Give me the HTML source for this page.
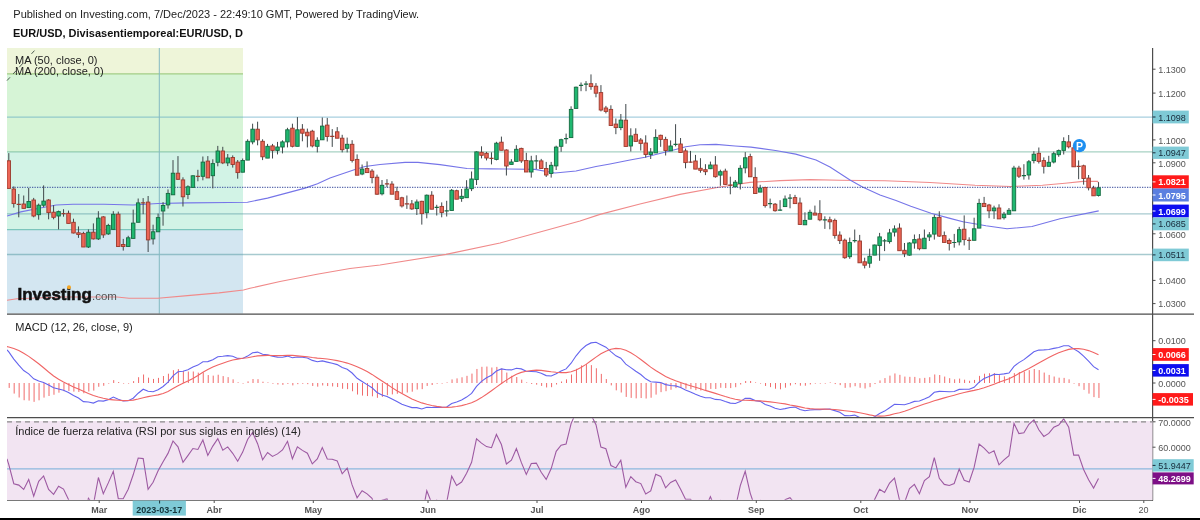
<!DOCTYPE html>
<html><head><meta charset="utf-8"><title>EUR/USD chart</title>
<style>html,body{margin:0;padding:0;background:#fff;}body{width:1200px;height:520px;overflow:hidden;position:relative;}</style>
</head><body>
<svg width="1200" height="520" viewBox="0 0 1200 520" style="position:absolute;left:0;top:0;font-family:'Liberation Sans', Arial, sans-serif">
<text x="13.3" y="18" font-size="11" fill="#222">Published on Investing.com, 7/Dec/2023 - 22:49:10 GMT, Powered by TradingView.</text>
<text x="13" y="37.3" font-size="11" font-weight="bold" fill="#111">EUR/USD, Divisasentiemporeal:EUR/USD, D</text>
<defs><clipPath id="mp"><rect x="7" y="46" width="1145.5" height="267.5"/></clipPath><clipPath id="mc"><rect x="7" y="314.5" width="1145.5" height="102.5"/></clipPath><clipPath id="rc"><rect x="7" y="418.3" width="1145.5" height="81.5"/></clipPath></defs>
<g clip-path="url(#mp)">
<rect x="7" y="48" width="236" height="26" fill="#eef5d9"/>
<rect x="7" y="74" width="236" height="78" fill="#d6f4d6"/>
<rect x="7" y="152" width="236" height="78" fill="#d2f3e6"/>
<rect x="7" y="230" width="236" height="84" fill="#d3e6f1"/>
<line x1="7" y1="73.8" x2="243" y2="73.8" stroke="#a2cd86" stroke-width="1.3"/>
<line x1="7" y1="229.7" x2="243" y2="229.7" stroke="#7cc5bc" stroke-width="1.3"/>
<line x1="7" y1="117.2" x2="1152" y2="117.2" stroke="rgba(79,159,191,0.5)" stroke-width="1.3"/>
<line x1="7" y1="151.8" x2="1152" y2="151.8" stroke="rgba(81,165,137,0.5)" stroke-width="1.3"/>
<line x1="7" y1="213.9" x2="1152" y2="213.9" stroke="rgba(79,149,159,0.5)" stroke-width="1.3"/>
<line x1="7" y1="254.5" x2="1152" y2="254.5" stroke="rgba(79,149,159,0.5)" stroke-width="1.3"/>
<line x1="159.3" y1="48" x2="159.3" y2="314" stroke="#84b9c2" stroke-width="1"/>
<polyline points="7.0,300.2 17.0,298.8 62.0,297.0 117.0,297.0 129.0,298.3 158.0,298.3 187.5,295.6 219.0,292.9 243.5,290.0 250.0,288.3 280.0,281.5 317.0,274.2 350.0,268.5 380.0,265.0 446.0,254.4 500.0,243.0 540.0,232.0 580.0,221.0 600.0,214.4 640.0,204.0 680.0,194.4 720.0,187.0 750.0,182.4 780.0,180.6 810.0,179.6 840.0,180.2 885.0,180.7 930.0,182.5 975.0,185.2 1011.0,186.5 1042.5,185.2 1065.0,183.2 1083.0,181.4 1097.5,181.3 1098.6,183.0" fill="none" stroke="#f08a8a" stroke-width="1.1"/>
<polyline points="7.0,216.0 20.8,211.9 41.7,207.7 56.2,205.0 73.0,204.2 104.0,204.2 133.0,205.0 158.0,203.5 187.5,202.9 229.0,202.5 247.5,202.3 267.5,198.1 286.3,193.1 305.0,188.1 317.5,183.8 330.0,178.1 342.5,173.8 355.0,169.5 365.0,166.5 380.0,164.5 405.0,162.4 418.0,162.4 440.0,164.6 467.0,168.5 491.0,168.9 505.0,169.0 535.0,169.4 555.0,173.0 576.0,171.0 596.0,166.5 610.0,164.0 630.0,160.0 645.0,157.2 675.6,149.5 685.7,146.8 700.0,144.8 716.0,144.4 735.0,146.0 751.0,147.1 775.5,150.5 795.7,154.1 816.0,160.0 830.0,167.0 840.0,173.5 850.0,180.0 862.5,187.0 880.0,195.0 896.0,200.5 910.8,206.3 931.0,213.3 950.0,218.4 963.0,221.8 986.0,225.8 1007.0,228.8 1032.0,226.5 1060.0,218.8 1098.7,210.9" fill="none" stroke="#7675e8" stroke-width="1.1"/>
<line x1="7" y1="187.3" x2="1152" y2="187.3" stroke="#34489a" stroke-width="1" stroke-dasharray="1.3,1.2"/>
<line x1="8.80" y1="153.1" x2="8.80" y2="188.4" stroke="#3f474a" stroke-width="1"/>
<rect x="7.05" y="160.8" width="3.5" height="27.6" fill="#ec6556" stroke="#9a392c" stroke-width="0.9"/>
<line x1="13.78" y1="186.4" x2="13.78" y2="207.6" stroke="#3f474a" stroke-width="1"/>
<rect x="12.03" y="189.0" width="3.5" height="14.6" fill="#ec6556" stroke="#9a392c" stroke-width="0.9"/>
<line x1="18.75" y1="194.0" x2="18.75" y2="217.3" stroke="#3f474a" stroke-width="1"/>
<line x1="16.65" y1="204.4" x2="20.85" y2="204.4" stroke="#9a392c" stroke-width="1.2"/>
<line x1="23.73" y1="195.5" x2="23.73" y2="208.4" stroke="#3f474a" stroke-width="1"/>
<rect x="21.98" y="204.0" width="3.5" height="4.4" fill="#ec6556" stroke="#9a392c" stroke-width="0.9"/>
<line x1="28.70" y1="188.0" x2="28.70" y2="207.6" stroke="#3f474a" stroke-width="1"/>
<rect x="26.95" y="201.5" width="3.5" height="6.1" fill="#1fb870" stroke="#146a40" stroke-width="0.9"/>
<line x1="33.68" y1="197.9" x2="33.68" y2="217.3" stroke="#3f474a" stroke-width="1"/>
<rect x="31.93" y="200.0" width="3.5" height="16.0" fill="#ec6556" stroke="#9a392c" stroke-width="0.9"/>
<line x1="38.66" y1="203.6" x2="38.66" y2="219.7" stroke="#3f474a" stroke-width="1"/>
<rect x="36.91" y="205.2" width="3.5" height="9.5" fill="#1fb870" stroke="#146a40" stroke-width="0.9"/>
<line x1="43.63" y1="185.4" x2="43.63" y2="207.2" stroke="#3f474a" stroke-width="1"/>
<rect x="41.88" y="201.1" width="3.5" height="4.1" fill="#1fb870" stroke="#146a40" stroke-width="0.9"/>
<line x1="48.61" y1="199.1" x2="48.61" y2="219.3" stroke="#3f474a" stroke-width="1"/>
<rect x="46.86" y="200.0" width="3.5" height="12.6" fill="#ec6556" stroke="#9a392c" stroke-width="0.9"/>
<line x1="53.58" y1="205.2" x2="53.58" y2="219.3" stroke="#3f474a" stroke-width="1"/>
<rect x="51.83" y="212.2" width="3.5" height="5.1" fill="#ec6556" stroke="#9a392c" stroke-width="0.9"/>
<line x1="58.56" y1="210.6" x2="58.56" y2="229.4" stroke="#3f474a" stroke-width="1"/>
<rect x="56.81" y="211.6" width="3.5" height="4.4" fill="#1fb870" stroke="#146a40" stroke-width="0.9"/>
<line x1="63.54" y1="209.2" x2="63.54" y2="216.7" stroke="#3f474a" stroke-width="1"/>
<line x1="61.44" y1="213.7" x2="65.64" y2="213.7" stroke="#9a392c" stroke-width="1.2"/>
<line x1="68.51" y1="210.6" x2="68.51" y2="223.4" stroke="#3f474a" stroke-width="1"/>
<rect x="66.76" y="213.3" width="3.5" height="10.1" fill="#ec6556" stroke="#9a392c" stroke-width="0.9"/>
<line x1="73.49" y1="218.7" x2="73.49" y2="233.4" stroke="#3f474a" stroke-width="1"/>
<rect x="71.74" y="222.3" width="3.5" height="10.7" fill="#ec6556" stroke="#9a392c" stroke-width="0.9"/>
<line x1="78.46" y1="226.4" x2="78.46" y2="237.9" stroke="#3f474a" stroke-width="1"/>
<rect x="76.71" y="232.8" width="3.5" height="1.7" fill="#ec6556" stroke="#9a392c" stroke-width="0.9"/>
<line x1="83.44" y1="231.8" x2="83.44" y2="247.0" stroke="#3f474a" stroke-width="1"/>
<rect x="81.69" y="233.4" width="3.5" height="13.6" fill="#ec6556" stroke="#9a392c" stroke-width="0.9"/>
<line x1="88.42" y1="229.4" x2="88.42" y2="248.0" stroke="#3f474a" stroke-width="1"/>
<rect x="86.67" y="232.2" width="3.5" height="14.8" fill="#1fb870" stroke="#146a40" stroke-width="0.9"/>
<line x1="93.39" y1="223.4" x2="93.39" y2="239.5" stroke="#3f474a" stroke-width="1"/>
<rect x="91.64" y="232.2" width="3.5" height="6.7" fill="#ec6556" stroke="#9a392c" stroke-width="0.9"/>
<line x1="98.37" y1="211.2" x2="98.37" y2="240.0" stroke="#3f474a" stroke-width="1"/>
<rect x="96.62" y="218.1" width="3.5" height="20.8" fill="#1fb870" stroke="#146a40" stroke-width="0.9"/>
<line x1="103.34" y1="216.1" x2="103.34" y2="237.9" stroke="#3f474a" stroke-width="1"/>
<rect x="101.59" y="216.9" width="3.5" height="18.0" fill="#ec6556" stroke="#9a392c" stroke-width="0.9"/>
<line x1="108.32" y1="223.8" x2="108.32" y2="234.9" stroke="#3f474a" stroke-width="1"/>
<rect x="106.57" y="225.4" width="3.5" height="8.5" fill="#1fb870" stroke="#146a40" stroke-width="0.9"/>
<line x1="113.30" y1="211.2" x2="113.30" y2="229.4" stroke="#3f474a" stroke-width="1"/>
<rect x="111.55" y="214.3" width="3.5" height="15.1" fill="#1fb870" stroke="#146a40" stroke-width="0.9"/>
<line x1="118.27" y1="211.6" x2="118.27" y2="246.5" stroke="#3f474a" stroke-width="1"/>
<rect x="116.52" y="214.2" width="3.5" height="32.3" fill="#ec6556" stroke="#9a392c" stroke-width="0.9"/>
<line x1="123.25" y1="238.9" x2="123.25" y2="250.6" stroke="#3f474a" stroke-width="1"/>
<rect x="121.50" y="244.5" width="3.5" height="2.0" fill="#ec6556" stroke="#9a392c" stroke-width="0.9"/>
<line x1="128.22" y1="235.8" x2="128.22" y2="246.5" stroke="#3f474a" stroke-width="1"/>
<rect x="126.47" y="237.8" width="3.5" height="8.7" fill="#1fb870" stroke="#146a40" stroke-width="0.9"/>
<line x1="133.20" y1="209.6" x2="133.20" y2="238.4" stroke="#3f474a" stroke-width="1"/>
<rect x="131.45" y="223.1" width="3.5" height="15.3" fill="#1fb870" stroke="#146a40" stroke-width="0.9"/>
<line x1="138.18" y1="198.5" x2="138.18" y2="222.3" stroke="#3f474a" stroke-width="1"/>
<rect x="136.43" y="202.9" width="3.5" height="19.4" fill="#1fb870" stroke="#146a40" stroke-width="0.9"/>
<line x1="143.15" y1="198.1" x2="143.15" y2="214.2" stroke="#3f474a" stroke-width="1"/>
<line x1="141.05" y1="202.8" x2="145.25" y2="202.8" stroke="#9a392c" stroke-width="1.2"/>
<line x1="148.13" y1="196.0" x2="148.13" y2="252.0" stroke="#3f474a" stroke-width="1"/>
<rect x="146.38" y="202.1" width="3.5" height="37.8" fill="#ec6556" stroke="#9a392c" stroke-width="0.9"/>
<line x1="153.10" y1="224.7" x2="153.10" y2="244.5" stroke="#3f474a" stroke-width="1"/>
<rect x="151.35" y="231.8" width="3.5" height="7.1" fill="#1fb870" stroke="#146a40" stroke-width="0.9"/>
<line x1="158.08" y1="213.6" x2="158.08" y2="231.8" stroke="#3f474a" stroke-width="1"/>
<rect x="156.33" y="217.6" width="3.5" height="14.2" fill="#1fb870" stroke="#146a40" stroke-width="0.9"/>
<line x1="163.06" y1="202.1" x2="163.06" y2="225.7" stroke="#3f474a" stroke-width="1"/>
<rect x="161.31" y="205.5" width="3.5" height="5.5" fill="#1fb870" stroke="#146a40" stroke-width="0.9"/>
<line x1="168.03" y1="189.4" x2="168.03" y2="208.6" stroke="#3f474a" stroke-width="1"/>
<rect x="166.28" y="193.4" width="3.5" height="11.5" fill="#1fb870" stroke="#146a40" stroke-width="0.9"/>
<line x1="173.01" y1="160.1" x2="173.01" y2="194.8" stroke="#3f474a" stroke-width="1"/>
<rect x="171.26" y="173.2" width="3.5" height="21.6" fill="#1fb870" stroke="#146a40" stroke-width="0.9"/>
<line x1="177.98" y1="156.1" x2="177.98" y2="179.9" stroke="#3f474a" stroke-width="1"/>
<rect x="176.23" y="173.2" width="3.5" height="6.1" fill="#ec6556" stroke="#9a392c" stroke-width="0.9"/>
<line x1="182.96" y1="177.3" x2="182.96" y2="206.5" stroke="#3f474a" stroke-width="1"/>
<rect x="181.21" y="179.9" width="3.5" height="16.9" fill="#ec6556" stroke="#9a392c" stroke-width="0.9"/>
<line x1="187.94" y1="185.3" x2="187.94" y2="199.1" stroke="#3f474a" stroke-width="1"/>
<rect x="186.19" y="186.8" width="3.5" height="7.6" fill="#1fb870" stroke="#146a40" stroke-width="0.9"/>
<line x1="192.91" y1="175.2" x2="192.91" y2="187.4" stroke="#3f474a" stroke-width="1"/>
<rect x="191.16" y="175.8" width="3.5" height="11.6" fill="#1fb870" stroke="#146a40" stroke-width="0.9"/>
<line x1="197.89" y1="169.8" x2="197.89" y2="181.3" stroke="#3f474a" stroke-width="1"/>
<line x1="195.79" y1="176.4" x2="199.99" y2="176.4" stroke="#9a392c" stroke-width="1.2"/>
<line x1="202.86" y1="156.5" x2="202.86" y2="180.3" stroke="#3f474a" stroke-width="1"/>
<rect x="201.11" y="162.1" width="3.5" height="14.2" fill="#1fb870" stroke="#146a40" stroke-width="0.9"/>
<line x1="207.84" y1="156.1" x2="207.84" y2="177.9" stroke="#3f474a" stroke-width="1"/>
<rect x="206.09" y="161.1" width="3.5" height="16.8" fill="#ec6556" stroke="#9a392c" stroke-width="0.9"/>
<line x1="212.82" y1="159.3" x2="212.82" y2="188.4" stroke="#3f474a" stroke-width="1"/>
<rect x="211.07" y="163.6" width="3.5" height="12.1" fill="#1fb870" stroke="#146a40" stroke-width="0.9"/>
<line x1="217.79" y1="145.9" x2="217.79" y2="166.3" stroke="#3f474a" stroke-width="1"/>
<rect x="216.04" y="151.0" width="3.5" height="11.3" fill="#1fb870" stroke="#146a40" stroke-width="0.9"/>
<line x1="222.77" y1="146.8" x2="222.77" y2="164.1" stroke="#3f474a" stroke-width="1"/>
<rect x="221.02" y="151.0" width="3.5" height="11.9" fill="#ec6556" stroke="#9a392c" stroke-width="0.9"/>
<line x1="227.74" y1="154.0" x2="227.74" y2="166.1" stroke="#3f474a" stroke-width="1"/>
<rect x="225.99" y="158.0" width="3.5" height="4.9" fill="#1fb870" stroke="#146a40" stroke-width="0.9"/>
<line x1="232.72" y1="155.4" x2="232.72" y2="167.6" stroke="#3f474a" stroke-width="1"/>
<rect x="230.97" y="157.5" width="3.5" height="7.0" fill="#ec6556" stroke="#9a392c" stroke-width="0.9"/>
<line x1="237.70" y1="160.0" x2="237.70" y2="178.7" stroke="#3f474a" stroke-width="1"/>
<rect x="235.95" y="162.1" width="3.5" height="10.5" fill="#ec6556" stroke="#9a392c" stroke-width="0.9"/>
<line x1="242.67" y1="158.5" x2="242.67" y2="172.2" stroke="#3f474a" stroke-width="1"/>
<rect x="240.92" y="160.5" width="3.5" height="11.7" fill="#1fb870" stroke="#146a40" stroke-width="0.9"/>
<line x1="247.65" y1="139.3" x2="247.65" y2="160.1" stroke="#3f474a" stroke-width="1"/>
<rect x="245.90" y="141.3" width="3.5" height="18.8" fill="#1fb870" stroke="#146a40" stroke-width="0.9"/>
<line x1="252.62" y1="123.7" x2="252.62" y2="144.3" stroke="#3f474a" stroke-width="1"/>
<rect x="250.87" y="129.2" width="3.5" height="12.7" fill="#1fb870" stroke="#146a40" stroke-width="0.9"/>
<line x1="257.60" y1="121.7" x2="257.60" y2="145.3" stroke="#3f474a" stroke-width="1"/>
<rect x="255.85" y="129.2" width="3.5" height="10.7" fill="#ec6556" stroke="#9a392c" stroke-width="0.9"/>
<line x1="262.58" y1="139.3" x2="262.58" y2="160.1" stroke="#3f474a" stroke-width="1"/>
<rect x="260.83" y="141.3" width="3.5" height="15.5" fill="#ec6556" stroke="#9a392c" stroke-width="0.9"/>
<line x1="267.55" y1="143.9" x2="267.55" y2="158.1" stroke="#3f474a" stroke-width="1"/>
<rect x="265.80" y="146.3" width="3.5" height="11.8" fill="#1fb870" stroke="#146a40" stroke-width="0.9"/>
<line x1="272.53" y1="143.9" x2="272.53" y2="158.5" stroke="#3f474a" stroke-width="1"/>
<rect x="270.78" y="145.9" width="3.5" height="4.5" fill="#ec6556" stroke="#9a392c" stroke-width="0.9"/>
<line x1="277.50" y1="141.9" x2="277.50" y2="154.4" stroke="#3f474a" stroke-width="1"/>
<rect x="275.75" y="147.0" width="3.5" height="3.4" fill="#1fb870" stroke="#146a40" stroke-width="0.9"/>
<line x1="282.48" y1="140.3" x2="282.48" y2="153.4" stroke="#3f474a" stroke-width="1"/>
<rect x="280.73" y="141.9" width="3.5" height="5.1" fill="#1fb870" stroke="#146a40" stroke-width="0.9"/>
<line x1="287.46" y1="127.8" x2="287.46" y2="147.4" stroke="#3f474a" stroke-width="1"/>
<rect x="285.71" y="129.8" width="3.5" height="12.1" fill="#1fb870" stroke="#146a40" stroke-width="0.9"/>
<line x1="292.43" y1="123.7" x2="292.43" y2="147.4" stroke="#3f474a" stroke-width="1"/>
<rect x="290.68" y="128.2" width="3.5" height="18.1" fill="#ec6556" stroke="#9a392c" stroke-width="0.9"/>
<line x1="297.41" y1="117.1" x2="297.41" y2="146.3" stroke="#3f474a" stroke-width="1"/>
<rect x="295.66" y="129.8" width="3.5" height="16.5" fill="#1fb870" stroke="#146a40" stroke-width="0.9"/>
<line x1="302.38" y1="124.1" x2="302.38" y2="141.3" stroke="#3f474a" stroke-width="1"/>
<rect x="300.63" y="129.2" width="3.5" height="4.0" fill="#ec6556" stroke="#9a392c" stroke-width="0.9"/>
<line x1="307.36" y1="128.6" x2="307.36" y2="147.4" stroke="#3f474a" stroke-width="1"/>
<rect x="305.61" y="132.2" width="3.5" height="3.6" fill="#ec6556" stroke="#9a392c" stroke-width="0.9"/>
<line x1="312.34" y1="129.8" x2="312.34" y2="147.4" stroke="#3f474a" stroke-width="1"/>
<rect x="310.59" y="131.2" width="3.5" height="14.7" fill="#ec6556" stroke="#9a392c" stroke-width="0.9"/>
<line x1="317.31" y1="137.3" x2="317.31" y2="152.4" stroke="#3f474a" stroke-width="1"/>
<rect x="315.56" y="140.3" width="3.5" height="6.0" fill="#1fb870" stroke="#146a40" stroke-width="0.9"/>
<line x1="322.29" y1="117.5" x2="322.29" y2="139.8" stroke="#3f474a" stroke-width="1"/>
<rect x="320.54" y="126.1" width="3.5" height="13.7" fill="#1fb870" stroke="#146a40" stroke-width="0.9"/>
<line x1="327.26" y1="117.9" x2="327.26" y2="141.5" stroke="#3f474a" stroke-width="1"/>
<rect x="325.51" y="125.1" width="3.5" height="11.4" fill="#ec6556" stroke="#9a392c" stroke-width="0.9"/>
<line x1="332.24" y1="129.1" x2="332.24" y2="146.9" stroke="#3f474a" stroke-width="1"/>
<line x1="330.14" y1="136.3" x2="334.34" y2="136.3" stroke="#9a392c" stroke-width="1.2"/>
<line x1="337.22" y1="127.1" x2="337.22" y2="138.2" stroke="#3f474a" stroke-width="1"/>
<rect x="335.47" y="131.8" width="3.5" height="6.4" fill="#ec6556" stroke="#9a392c" stroke-width="0.9"/>
<line x1="342.19" y1="134.8" x2="342.19" y2="152.4" stroke="#3f474a" stroke-width="1"/>
<rect x="340.44" y="138.2" width="3.5" height="11.5" fill="#ec6556" stroke="#9a392c" stroke-width="0.9"/>
<line x1="347.17" y1="137.6" x2="347.17" y2="152.4" stroke="#3f474a" stroke-width="1"/>
<rect x="345.42" y="144.3" width="3.5" height="4.0" fill="#1fb870" stroke="#146a40" stroke-width="0.9"/>
<line x1="352.14" y1="140.2" x2="352.14" y2="162.5" stroke="#3f474a" stroke-width="1"/>
<rect x="350.39" y="144.3" width="3.5" height="16.1" fill="#ec6556" stroke="#9a392c" stroke-width="0.9"/>
<line x1="357.12" y1="154.4" x2="357.12" y2="175.2" stroke="#3f474a" stroke-width="1"/>
<rect x="355.37" y="159.4" width="3.5" height="15.8" fill="#ec6556" stroke="#9a392c" stroke-width="0.9"/>
<line x1="362.10" y1="164.5" x2="362.10" y2="175.2" stroke="#3f474a" stroke-width="1"/>
<rect x="360.35" y="169.1" width="3.5" height="4.9" fill="#1fb870" stroke="#146a40" stroke-width="0.9"/>
<line x1="367.07" y1="161.4" x2="367.07" y2="172.6" stroke="#3f474a" stroke-width="1"/>
<rect x="365.32" y="168.5" width="3.5" height="4.1" fill="#ec6556" stroke="#9a392c" stroke-width="0.9"/>
<line x1="372.05" y1="169.1" x2="372.05" y2="183.3" stroke="#3f474a" stroke-width="1"/>
<rect x="370.30" y="171.1" width="3.5" height="6.5" fill="#ec6556" stroke="#9a392c" stroke-width="0.9"/>
<line x1="377.02" y1="174.6" x2="377.02" y2="194.8" stroke="#3f474a" stroke-width="1"/>
<rect x="375.27" y="177.2" width="3.5" height="17.0" fill="#ec6556" stroke="#9a392c" stroke-width="0.9"/>
<line x1="382.00" y1="180.0" x2="382.00" y2="195.4" stroke="#3f474a" stroke-width="1"/>
<rect x="380.25" y="185.3" width="3.5" height="8.5" fill="#1fb870" stroke="#146a40" stroke-width="0.9"/>
<line x1="386.98" y1="179.2" x2="386.98" y2="187.3" stroke="#3f474a" stroke-width="1"/>
<line x1="384.88" y1="183.8" x2="389.08" y2="183.8" stroke="#9a392c" stroke-width="1.2"/>
<line x1="391.95" y1="181.2" x2="391.95" y2="194.2" stroke="#3f474a" stroke-width="1"/>
<rect x="390.20" y="184.1" width="3.5" height="10.1" fill="#ec6556" stroke="#9a392c" stroke-width="0.9"/>
<line x1="396.93" y1="186.7" x2="396.93" y2="199.4" stroke="#3f474a" stroke-width="1"/>
<rect x="395.18" y="191.7" width="3.5" height="7.7" fill="#ec6556" stroke="#9a392c" stroke-width="0.9"/>
<line x1="401.90" y1="196.8" x2="401.90" y2="207.5" stroke="#3f474a" stroke-width="1"/>
<rect x="400.15" y="197.8" width="3.5" height="8.1" fill="#ec6556" stroke="#9a392c" stroke-width="0.9"/>
<line x1="406.88" y1="195.5" x2="406.88" y2="208.9" stroke="#3f474a" stroke-width="1"/>
<line x1="404.78" y1="203.9" x2="408.98" y2="203.9" stroke="#9a392c" stroke-width="1.2"/>
<line x1="411.86" y1="200.0" x2="411.86" y2="209.9" stroke="#3f474a" stroke-width="1"/>
<rect x="410.11" y="203.9" width="3.5" height="5.0" fill="#ec6556" stroke="#9a392c" stroke-width="0.9"/>
<line x1="416.83" y1="199.5" x2="416.83" y2="215.0" stroke="#3f474a" stroke-width="1"/>
<rect x="415.08" y="202.0" width="3.5" height="6.6" fill="#1fb870" stroke="#146a40" stroke-width="0.9"/>
<line x1="421.81" y1="200.8" x2="421.81" y2="224.6" stroke="#3f474a" stroke-width="1"/>
<rect x="420.06" y="201.3" width="3.5" height="12.3" fill="#ec6556" stroke="#9a392c" stroke-width="0.9"/>
<line x1="426.78" y1="194.5" x2="426.78" y2="218.3" stroke="#3f474a" stroke-width="1"/>
<rect x="425.03" y="195.2" width="3.5" height="17.5" fill="#1fb870" stroke="#146a40" stroke-width="0.9"/>
<line x1="431.76" y1="191.2" x2="431.76" y2="209.2" stroke="#3f474a" stroke-width="1"/>
<rect x="430.01" y="195.2" width="3.5" height="14.0" fill="#ec6556" stroke="#9a392c" stroke-width="0.9"/>
<line x1="436.74" y1="204.8" x2="436.74" y2="215.5" stroke="#3f474a" stroke-width="1"/>
<line x1="434.64" y1="207.3" x2="438.84" y2="207.3" stroke="#146a40" stroke-width="1.2"/>
<line x1="441.71" y1="202.4" x2="441.71" y2="217.3" stroke="#3f474a" stroke-width="1"/>
<rect x="439.96" y="206.4" width="3.5" height="6.1" fill="#ec6556" stroke="#9a392c" stroke-width="0.9"/>
<line x1="446.69" y1="200.8" x2="446.69" y2="216.5" stroke="#3f474a" stroke-width="1"/>
<line x1="444.59" y1="210.9" x2="448.79" y2="210.9" stroke="#146a40" stroke-width="1.2"/>
<line x1="451.66" y1="189.0" x2="451.66" y2="210.5" stroke="#3f474a" stroke-width="1"/>
<rect x="449.91" y="190.3" width="3.5" height="20.2" fill="#1fb870" stroke="#146a40" stroke-width="0.9"/>
<line x1="456.64" y1="189.7" x2="456.64" y2="199.2" stroke="#3f474a" stroke-width="1"/>
<rect x="454.89" y="190.7" width="3.5" height="8.5" fill="#ec6556" stroke="#9a392c" stroke-width="0.9"/>
<line x1="461.62" y1="189.0" x2="461.62" y2="201.8" stroke="#3f474a" stroke-width="1"/>
<rect x="459.87" y="196.3" width="3.5" height="2.1" fill="#1fb870" stroke="#146a40" stroke-width="0.9"/>
<line x1="466.59" y1="180.2" x2="466.59" y2="197.7" stroke="#3f474a" stroke-width="1"/>
<rect x="464.84" y="189.0" width="3.5" height="8.7" fill="#1fb870" stroke="#146a40" stroke-width="0.9"/>
<line x1="471.57" y1="171.5" x2="471.57" y2="191.1" stroke="#3f474a" stroke-width="1"/>
<rect x="469.82" y="179.0" width="3.5" height="9.7" fill="#1fb870" stroke="#146a40" stroke-width="0.9"/>
<line x1="476.54" y1="151.3" x2="476.54" y2="185.0" stroke="#3f474a" stroke-width="1"/>
<rect x="474.79" y="151.9" width="3.5" height="27.7" fill="#1fb870" stroke="#146a40" stroke-width="0.9"/>
<line x1="481.52" y1="146.3" x2="481.52" y2="158.4" stroke="#3f474a" stroke-width="1"/>
<rect x="479.77" y="152.3" width="3.5" height="3.0" fill="#ec6556" stroke="#9a392c" stroke-width="0.9"/>
<line x1="486.50" y1="151.9" x2="486.50" y2="160.4" stroke="#3f474a" stroke-width="1"/>
<rect x="484.75" y="153.3" width="3.5" height="4.7" fill="#ec6556" stroke="#9a392c" stroke-width="0.9"/>
<line x1="491.47" y1="152.3" x2="491.47" y2="164.4" stroke="#3f474a" stroke-width="1"/>
<line x1="489.37" y1="158.4" x2="493.57" y2="158.4" stroke="#9a392c" stroke-width="1.2"/>
<line x1="496.45" y1="141.8" x2="496.45" y2="160.4" stroke="#3f474a" stroke-width="1"/>
<rect x="494.70" y="143.2" width="3.5" height="16.2" fill="#1fb870" stroke="#146a40" stroke-width="0.9"/>
<line x1="501.42" y1="136.6" x2="501.42" y2="150.3" stroke="#3f474a" stroke-width="1"/>
<rect x="499.67" y="142.2" width="3.5" height="8.1" fill="#ec6556" stroke="#9a392c" stroke-width="0.9"/>
<line x1="506.40" y1="149.3" x2="506.40" y2="175.5" stroke="#3f474a" stroke-width="1"/>
<rect x="504.65" y="150.0" width="3.5" height="16.0" fill="#ec6556" stroke="#9a392c" stroke-width="0.9"/>
<line x1="511.38" y1="159.2" x2="511.38" y2="164.4" stroke="#3f474a" stroke-width="1"/>
<rect x="509.63" y="162.0" width="3.5" height="2.4" fill="#1fb870" stroke="#146a40" stroke-width="0.9"/>
<line x1="516.35" y1="145.2" x2="516.35" y2="161.4" stroke="#3f474a" stroke-width="1"/>
<rect x="514.60" y="149.3" width="3.5" height="12.1" fill="#1fb870" stroke="#146a40" stroke-width="0.9"/>
<line x1="521.33" y1="147.7" x2="521.33" y2="162.9" stroke="#3f474a" stroke-width="1"/>
<rect x="519.58" y="148.4" width="3.5" height="12.5" fill="#ec6556" stroke="#9a392c" stroke-width="0.9"/>
<line x1="526.30" y1="152.8" x2="526.30" y2="172.0" stroke="#3f474a" stroke-width="1"/>
<rect x="524.55" y="160.5" width="3.5" height="11.5" fill="#ec6556" stroke="#9a392c" stroke-width="0.9"/>
<line x1="531.28" y1="155.8" x2="531.28" y2="177.6" stroke="#3f474a" stroke-width="1"/>
<rect x="529.53" y="160.9" width="3.5" height="11.1" fill="#1fb870" stroke="#146a40" stroke-width="0.9"/>
<line x1="536.26" y1="155.2" x2="536.26" y2="169.0" stroke="#3f474a" stroke-width="1"/>
<line x1="534.16" y1="160.9" x2="538.36" y2="160.9" stroke="#146a40" stroke-width="1.2"/>
<line x1="541.23" y1="158.9" x2="541.23" y2="168.5" stroke="#3f474a" stroke-width="1"/>
<rect x="539.48" y="160.9" width="3.5" height="7.6" fill="#ec6556" stroke="#9a392c" stroke-width="0.9"/>
<line x1="546.21" y1="161.9" x2="546.21" y2="177.0" stroke="#3f474a" stroke-width="1"/>
<rect x="544.46" y="168.5" width="3.5" height="6.5" fill="#ec6556" stroke="#9a392c" stroke-width="0.9"/>
<line x1="551.18" y1="161.9" x2="551.18" y2="177.6" stroke="#3f474a" stroke-width="1"/>
<rect x="549.43" y="165.3" width="3.5" height="8.2" fill="#1fb870" stroke="#146a40" stroke-width="0.9"/>
<line x1="556.16" y1="145.7" x2="556.16" y2="170.0" stroke="#3f474a" stroke-width="1"/>
<rect x="554.41" y="147.1" width="3.5" height="18.8" fill="#1fb870" stroke="#146a40" stroke-width="0.9"/>
<line x1="561.14" y1="138.7" x2="561.14" y2="151.8" stroke="#3f474a" stroke-width="1"/>
<rect x="559.39" y="139.7" width="3.5" height="6.6" fill="#1fb870" stroke="#146a40" stroke-width="0.9"/>
<line x1="566.11" y1="133.6" x2="566.11" y2="143.7" stroke="#3f474a" stroke-width="1"/>
<line x1="564.01" y1="138.7" x2="568.21" y2="138.7" stroke="#146a40" stroke-width="1.2"/>
<line x1="571.09" y1="106.3" x2="571.09" y2="137.6" stroke="#3f474a" stroke-width="1"/>
<rect x="569.34" y="109.4" width="3.5" height="28.2" fill="#1fb870" stroke="#146a40" stroke-width="0.9"/>
<line x1="576.06" y1="86.6" x2="576.06" y2="108.4" stroke="#3f474a" stroke-width="1"/>
<rect x="574.31" y="87.2" width="3.5" height="21.2" fill="#1fb870" stroke="#146a40" stroke-width="0.9"/>
<line x1="581.04" y1="82.5" x2="581.04" y2="91.2" stroke="#3f474a" stroke-width="1"/>
<line x1="578.94" y1="85.4" x2="583.14" y2="85.4" stroke="#146a40" stroke-width="1.2"/>
<line x1="586.02" y1="81.1" x2="586.02" y2="91.2" stroke="#3f474a" stroke-width="1"/>
<line x1="583.92" y1="84.1" x2="588.12" y2="84.1" stroke="#146a40" stroke-width="1.2"/>
<line x1="590.99" y1="74.4" x2="590.99" y2="89.8" stroke="#3f474a" stroke-width="1"/>
<rect x="589.24" y="83.7" width="3.5" height="2.9" fill="#ec6556" stroke="#9a392c" stroke-width="0.9"/>
<line x1="595.97" y1="83.1" x2="595.97" y2="97.3" stroke="#3f474a" stroke-width="1"/>
<rect x="594.22" y="86.2" width="3.5" height="7.0" fill="#ec6556" stroke="#9a392c" stroke-width="0.9"/>
<line x1="600.94" y1="85.1" x2="600.94" y2="111.4" stroke="#3f474a" stroke-width="1"/>
<rect x="599.19" y="92.6" width="3.5" height="17.4" fill="#ec6556" stroke="#9a392c" stroke-width="0.9"/>
<line x1="605.92" y1="105.9" x2="605.92" y2="113.4" stroke="#3f474a" stroke-width="1"/>
<rect x="604.17" y="108.0" width="3.5" height="3.4" fill="#ec6556" stroke="#9a392c" stroke-width="0.9"/>
<line x1="610.90" y1="105.3" x2="610.90" y2="125.5" stroke="#3f474a" stroke-width="1"/>
<rect x="609.15" y="109.4" width="3.5" height="16.1" fill="#ec6556" stroke="#9a392c" stroke-width="0.9"/>
<line x1="615.87" y1="118.5" x2="615.87" y2="134.2" stroke="#3f474a" stroke-width="1"/>
<rect x="614.12" y="124.1" width="3.5" height="3.5" fill="#ec6556" stroke="#9a392c" stroke-width="0.9"/>
<line x1="620.85" y1="114.0" x2="620.85" y2="130.2" stroke="#3f474a" stroke-width="1"/>
<rect x="619.10" y="120.1" width="3.5" height="7.5" fill="#1fb870" stroke="#146a40" stroke-width="0.9"/>
<line x1="625.82" y1="104.0" x2="625.82" y2="146.4" stroke="#3f474a" stroke-width="1"/>
<rect x="624.07" y="120.2" width="3.5" height="26.2" fill="#ec6556" stroke="#9a392c" stroke-width="0.9"/>
<line x1="630.80" y1="128.3" x2="630.80" y2="151.5" stroke="#3f474a" stroke-width="1"/>
<rect x="629.05" y="135.9" width="3.5" height="10.1" fill="#1fb870" stroke="#146a40" stroke-width="0.9"/>
<line x1="635.78" y1="128.3" x2="635.78" y2="141.4" stroke="#3f474a" stroke-width="1"/>
<rect x="634.03" y="134.3" width="3.5" height="7.1" fill="#ec6556" stroke="#9a392c" stroke-width="0.9"/>
<line x1="640.75" y1="138.0" x2="640.75" y2="150.5" stroke="#3f474a" stroke-width="1"/>
<rect x="639.00" y="140.0" width="3.5" height="3.4" fill="#ec6556" stroke="#9a392c" stroke-width="0.9"/>
<line x1="645.73" y1="135.3" x2="645.73" y2="157.6" stroke="#3f474a" stroke-width="1"/>
<rect x="643.98" y="143.0" width="3.5" height="11.5" fill="#ec6556" stroke="#9a392c" stroke-width="0.9"/>
<line x1="650.70" y1="148.1" x2="650.70" y2="159.0" stroke="#3f474a" stroke-width="1"/>
<rect x="648.95" y="152.1" width="3.5" height="2.4" fill="#1fb870" stroke="#146a40" stroke-width="0.9"/>
<line x1="655.68" y1="129.3" x2="655.68" y2="152.9" stroke="#3f474a" stroke-width="1"/>
<rect x="653.93" y="137.4" width="3.5" height="15.5" fill="#1fb870" stroke="#146a40" stroke-width="0.9"/>
<line x1="660.66" y1="134.7" x2="660.66" y2="146.8" stroke="#3f474a" stroke-width="1"/>
<rect x="658.91" y="135.3" width="3.5" height="4.1" fill="#ec6556" stroke="#9a392c" stroke-width="0.9"/>
<line x1="665.63" y1="136.8" x2="665.63" y2="155.5" stroke="#3f474a" stroke-width="1"/>
<rect x="663.88" y="139.4" width="3.5" height="11.1" fill="#ec6556" stroke="#9a392c" stroke-width="0.9"/>
<line x1="670.61" y1="140.4" x2="670.61" y2="150.9" stroke="#3f474a" stroke-width="1"/>
<rect x="668.86" y="146.0" width="3.5" height="4.9" fill="#1fb870" stroke="#146a40" stroke-width="0.9"/>
<line x1="675.58" y1="124.2" x2="675.58" y2="146.4" stroke="#3f474a" stroke-width="1"/>
<line x1="673.48" y1="144.4" x2="677.68" y2="144.4" stroke="#146a40" stroke-width="1.2"/>
<line x1="680.56" y1="138.0" x2="680.56" y2="152.9" stroke="#3f474a" stroke-width="1"/>
<rect x="678.81" y="144.0" width="3.5" height="8.5" fill="#ec6556" stroke="#9a392c" stroke-width="0.9"/>
<line x1="685.54" y1="148.5" x2="685.54" y2="168.3" stroke="#3f474a" stroke-width="1"/>
<rect x="683.79" y="150.9" width="3.5" height="11.7" fill="#ec6556" stroke="#9a392c" stroke-width="0.9"/>
<line x1="690.51" y1="150.9" x2="690.51" y2="162.6" stroke="#3f474a" stroke-width="1"/>
<line x1="688.41" y1="162.1" x2="692.61" y2="162.1" stroke="#9a392c" stroke-width="1.2"/>
<line x1="695.49" y1="154.9" x2="695.49" y2="169.1" stroke="#3f474a" stroke-width="1"/>
<rect x="693.74" y="161.0" width="3.5" height="8.1" fill="#ec6556" stroke="#9a392c" stroke-width="0.9"/>
<line x1="700.46" y1="158.2" x2="700.46" y2="172.7" stroke="#3f474a" stroke-width="1"/>
<rect x="698.71" y="168.3" width="3.5" height="2.0" fill="#ec6556" stroke="#9a392c" stroke-width="0.9"/>
<line x1="705.44" y1="164.2" x2="705.44" y2="175.1" stroke="#3f474a" stroke-width="1"/>
<rect x="703.69" y="169.7" width="3.5" height="2.0" fill="#ec6556" stroke="#9a392c" stroke-width="0.9"/>
<line x1="710.42" y1="161.6" x2="710.42" y2="169.1" stroke="#3f474a" stroke-width="1"/>
<rect x="708.67" y="165.0" width="3.5" height="3.7" fill="#1fb870" stroke="#146a40" stroke-width="0.9"/>
<line x1="715.39" y1="156.1" x2="715.39" y2="177.7" stroke="#3f474a" stroke-width="1"/>
<rect x="713.64" y="165.0" width="3.5" height="11.7" fill="#ec6556" stroke="#9a392c" stroke-width="0.9"/>
<line x1="720.37" y1="169.7" x2="720.37" y2="185.8" stroke="#3f474a" stroke-width="1"/>
<rect x="718.62" y="171.7" width="3.5" height="3.4" fill="#1fb870" stroke="#146a40" stroke-width="0.9"/>
<line x1="725.34" y1="168.7" x2="725.34" y2="184.8" stroke="#3f474a" stroke-width="1"/>
<rect x="723.59" y="171.1" width="3.5" height="13.3" fill="#ec6556" stroke="#9a392c" stroke-width="0.9"/>
<line x1="730.32" y1="176.7" x2="730.32" y2="194.3" stroke="#3f474a" stroke-width="1"/>
<line x1="728.22" y1="185.1" x2="732.42" y2="185.1" stroke="#9a392c" stroke-width="1.2"/>
<line x1="735.30" y1="180.0" x2="735.30" y2="186.8" stroke="#3f474a" stroke-width="1"/>
<rect x="733.55" y="182.2" width="3.5" height="4.6" fill="#1fb870" stroke="#146a40" stroke-width="0.9"/>
<line x1="740.27" y1="165.2" x2="740.27" y2="189.5" stroke="#3f474a" stroke-width="1"/>
<rect x="738.52" y="168.3" width="3.5" height="15.1" fill="#1fb870" stroke="#146a40" stroke-width="0.9"/>
<line x1="745.25" y1="152.1" x2="745.25" y2="173.3" stroke="#3f474a" stroke-width="1"/>
<rect x="743.50" y="157.8" width="3.5" height="10.1" fill="#1fb870" stroke="#146a40" stroke-width="0.9"/>
<line x1="750.22" y1="153.7" x2="750.22" y2="176.8" stroke="#3f474a" stroke-width="1"/>
<rect x="748.47" y="156.6" width="3.5" height="20.2" fill="#ec6556" stroke="#9a392c" stroke-width="0.9"/>
<line x1="755.20" y1="167.3" x2="755.20" y2="193.5" stroke="#3f474a" stroke-width="1"/>
<rect x="753.45" y="177.4" width="3.5" height="16.1" fill="#ec6556" stroke="#9a392c" stroke-width="0.9"/>
<line x1="760.18" y1="184.8" x2="760.18" y2="192.1" stroke="#3f474a" stroke-width="1"/>
<rect x="758.43" y="188.1" width="3.5" height="4.0" fill="#1fb870" stroke="#146a40" stroke-width="0.9"/>
<line x1="765.15" y1="186.8" x2="765.15" y2="207.6" stroke="#3f474a" stroke-width="1"/>
<rect x="763.40" y="187.5" width="3.5" height="18.1" fill="#ec6556" stroke="#9a392c" stroke-width="0.9"/>
<line x1="770.13" y1="198.6" x2="770.13" y2="208.3" stroke="#3f474a" stroke-width="1"/>
<line x1="768.03" y1="203.6" x2="772.23" y2="203.6" stroke="#146a40" stroke-width="1.2"/>
<line x1="775.10" y1="203.0" x2="775.10" y2="211.7" stroke="#3f474a" stroke-width="1"/>
<rect x="773.35" y="204.2" width="3.5" height="6.5" fill="#ec6556" stroke="#9a392c" stroke-width="0.9"/>
<line x1="780.08" y1="200.2" x2="780.08" y2="210.7" stroke="#3f474a" stroke-width="1"/>
<line x1="777.98" y1="210.2" x2="782.18" y2="210.2" stroke="#146a40" stroke-width="1.2"/>
<line x1="785.06" y1="195.5" x2="785.06" y2="206.6" stroke="#3f474a" stroke-width="1"/>
<rect x="783.31" y="199.0" width="3.5" height="7.6" fill="#1fb870" stroke="#146a40" stroke-width="0.9"/>
<line x1="790.03" y1="194.1" x2="790.03" y2="208.3" stroke="#3f474a" stroke-width="1"/>
<line x1="787.93" y1="198.1" x2="792.13" y2="198.1" stroke="#146a40" stroke-width="1.2"/>
<line x1="795.01" y1="194.9" x2="795.01" y2="203.6" stroke="#3f474a" stroke-width="1"/>
<rect x="793.26" y="197.6" width="3.5" height="6.0" fill="#ec6556" stroke="#9a392c" stroke-width="0.9"/>
<line x1="799.98" y1="197.6" x2="799.98" y2="224.8" stroke="#3f474a" stroke-width="1"/>
<rect x="798.23" y="203.0" width="3.5" height="21.4" fill="#ec6556" stroke="#9a392c" stroke-width="0.9"/>
<line x1="804.96" y1="212.3" x2="804.96" y2="224.8" stroke="#3f474a" stroke-width="1"/>
<rect x="803.21" y="220.4" width="3.5" height="4.4" fill="#1fb870" stroke="#146a40" stroke-width="0.9"/>
<line x1="809.94" y1="209.7" x2="809.94" y2="219.2" stroke="#3f474a" stroke-width="1"/>
<rect x="808.19" y="212.3" width="3.5" height="6.9" fill="#1fb870" stroke="#146a40" stroke-width="0.9"/>
<line x1="814.91" y1="205.6" x2="814.91" y2="215.1" stroke="#3f474a" stroke-width="1"/>
<rect x="813.16" y="213.1" width="3.5" height="2.0" fill="#ec6556" stroke="#9a392c" stroke-width="0.9"/>
<line x1="819.89" y1="200.2" x2="819.89" y2="221.2" stroke="#3f474a" stroke-width="1"/>
<rect x="818.14" y="213.7" width="3.5" height="6.1" fill="#ec6556" stroke="#9a392c" stroke-width="0.9"/>
<line x1="824.86" y1="216.3" x2="824.86" y2="228.9" stroke="#3f474a" stroke-width="1"/>
<line x1="822.76" y1="219.8" x2="826.96" y2="219.8" stroke="#146a40" stroke-width="1.2"/>
<line x1="829.84" y1="216.7" x2="829.84" y2="229.3" stroke="#3f474a" stroke-width="1"/>
<rect x="828.09" y="219.8" width="3.5" height="2.0" fill="#ec6556" stroke="#9a392c" stroke-width="0.9"/>
<line x1="834.82" y1="218.6" x2="834.82" y2="238.6" stroke="#3f474a" stroke-width="1"/>
<rect x="833.07" y="220.4" width="3.5" height="15.0" fill="#ec6556" stroke="#9a392c" stroke-width="0.9"/>
<line x1="839.79" y1="231.4" x2="839.79" y2="244.0" stroke="#3f474a" stroke-width="1"/>
<rect x="838.04" y="235.1" width="3.5" height="5.5" fill="#ec6556" stroke="#9a392c" stroke-width="0.9"/>
<line x1="844.77" y1="238.6" x2="844.77" y2="258.8" stroke="#3f474a" stroke-width="1"/>
<rect x="843.02" y="240.2" width="3.5" height="17.5" fill="#ec6556" stroke="#9a392c" stroke-width="0.9"/>
<line x1="849.74" y1="237.6" x2="849.74" y2="258.8" stroke="#3f474a" stroke-width="1"/>
<rect x="847.99" y="242.6" width="3.5" height="14.1" fill="#1fb870" stroke="#146a40" stroke-width="0.9"/>
<line x1="854.72" y1="229.5" x2="854.72" y2="242.6" stroke="#3f474a" stroke-width="1"/>
<line x1="852.62" y1="240.6" x2="856.82" y2="240.6" stroke="#146a40" stroke-width="1.2"/>
<line x1="859.70" y1="234.9" x2="859.70" y2="262.8" stroke="#3f474a" stroke-width="1"/>
<rect x="857.95" y="241.0" width="3.5" height="21.8" fill="#ec6556" stroke="#9a392c" stroke-width="0.9"/>
<line x1="864.67" y1="257.7" x2="864.67" y2="268.4" stroke="#3f474a" stroke-width="1"/>
<rect x="862.92" y="261.8" width="3.5" height="3.4" fill="#ec6556" stroke="#9a392c" stroke-width="0.9"/>
<line x1="869.65" y1="248.7" x2="869.65" y2="267.8" stroke="#3f474a" stroke-width="1"/>
<rect x="867.90" y="256.3" width="3.5" height="6.9" fill="#1fb870" stroke="#146a40" stroke-width="0.9"/>
<line x1="874.62" y1="244.6" x2="874.62" y2="255.1" stroke="#3f474a" stroke-width="1"/>
<rect x="872.87" y="245.0" width="3.5" height="10.1" fill="#1fb870" stroke="#146a40" stroke-width="0.9"/>
<line x1="879.60" y1="232.9" x2="879.60" y2="260.8" stroke="#3f474a" stroke-width="1"/>
<rect x="877.85" y="236.9" width="3.5" height="8.7" fill="#1fb870" stroke="#146a40" stroke-width="0.9"/>
<line x1="884.58" y1="239.0" x2="884.58" y2="251.1" stroke="#3f474a" stroke-width="1"/>
<line x1="882.48" y1="240.9" x2="886.68" y2="240.9" stroke="#146a40" stroke-width="1.2"/>
<line x1="889.55" y1="228.9" x2="889.55" y2="243.6" stroke="#3f474a" stroke-width="1"/>
<rect x="887.80" y="232.9" width="3.5" height="8.7" fill="#1fb870" stroke="#146a40" stroke-width="0.9"/>
<line x1="894.53" y1="225.4" x2="894.53" y2="236.5" stroke="#3f474a" stroke-width="1"/>
<rect x="892.78" y="228.9" width="3.5" height="3.2" fill="#1fb870" stroke="#146a40" stroke-width="0.9"/>
<line x1="899.50" y1="223.4" x2="899.50" y2="250.7" stroke="#3f474a" stroke-width="1"/>
<rect x="897.75" y="228.1" width="3.5" height="22.6" fill="#ec6556" stroke="#9a392c" stroke-width="0.9"/>
<line x1="904.48" y1="243.0" x2="904.48" y2="257.1" stroke="#3f474a" stroke-width="1"/>
<rect x="902.73" y="250.3" width="3.5" height="3.4" fill="#ec6556" stroke="#9a392c" stroke-width="0.9"/>
<line x1="909.46" y1="242.2" x2="909.46" y2="255.7" stroke="#3f474a" stroke-width="1"/>
<rect x="907.71" y="243.0" width="3.5" height="12.1" fill="#1fb870" stroke="#146a40" stroke-width="0.9"/>
<line x1="914.43" y1="234.5" x2="914.43" y2="248.7" stroke="#3f474a" stroke-width="1"/>
<rect x="912.68" y="239.6" width="3.5" height="3.4" fill="#1fb870" stroke="#146a40" stroke-width="0.9"/>
<line x1="919.41" y1="234.1" x2="919.41" y2="250.3" stroke="#3f474a" stroke-width="1"/>
<rect x="917.66" y="239.0" width="3.5" height="9.7" fill="#ec6556" stroke="#9a392c" stroke-width="0.9"/>
<line x1="924.38" y1="229.5" x2="924.38" y2="248.7" stroke="#3f474a" stroke-width="1"/>
<rect x="922.63" y="238.2" width="3.5" height="10.5" fill="#1fb870" stroke="#146a40" stroke-width="0.9"/>
<line x1="929.36" y1="232.1" x2="929.36" y2="241.0" stroke="#3f474a" stroke-width="1"/>
<rect x="927.61" y="234.9" width="3.5" height="2.0" fill="#1fb870" stroke="#146a40" stroke-width="0.9"/>
<line x1="934.34" y1="214.7" x2="934.34" y2="239.6" stroke="#3f474a" stroke-width="1"/>
<rect x="932.59" y="217.4" width="3.5" height="16.7" fill="#1fb870" stroke="#146a40" stroke-width="0.9"/>
<line x1="939.31" y1="211.3" x2="939.31" y2="236.9" stroke="#3f474a" stroke-width="1"/>
<rect x="937.56" y="217.4" width="3.5" height="18.7" fill="#ec6556" stroke="#9a392c" stroke-width="0.9"/>
<line x1="944.29" y1="231.5" x2="944.29" y2="242.4" stroke="#3f474a" stroke-width="1"/>
<rect x="942.54" y="235.6" width="3.5" height="6.8" fill="#ec6556" stroke="#9a392c" stroke-width="0.9"/>
<line x1="949.26" y1="238.5" x2="949.26" y2="250.5" stroke="#3f474a" stroke-width="1"/>
<rect x="947.51" y="240.5" width="3.5" height="3.0" fill="#ec6556" stroke="#9a392c" stroke-width="0.9"/>
<line x1="954.24" y1="233.9" x2="954.24" y2="247.7" stroke="#3f474a" stroke-width="1"/>
<line x1="952.14" y1="242.5" x2="956.34" y2="242.5" stroke="#146a40" stroke-width="1.2"/>
<line x1="959.22" y1="226.9" x2="959.22" y2="245.4" stroke="#3f474a" stroke-width="1"/>
<rect x="957.47" y="229.7" width="3.5" height="12.2" fill="#1fb870" stroke="#146a40" stroke-width="0.9"/>
<line x1="964.19" y1="215.4" x2="964.19" y2="245.4" stroke="#3f474a" stroke-width="1"/>
<rect x="962.44" y="229.2" width="3.5" height="10.4" fill="#ec6556" stroke="#9a392c" stroke-width="0.9"/>
<line x1="969.17" y1="237.3" x2="969.17" y2="250.0" stroke="#3f474a" stroke-width="1"/>
<line x1="967.07" y1="240.4" x2="971.27" y2="240.4" stroke="#9a392c" stroke-width="1.2"/>
<line x1="974.14" y1="217.7" x2="974.14" y2="240.3" stroke="#3f474a" stroke-width="1"/>
<rect x="972.39" y="228.8" width="3.5" height="11.5" fill="#1fb870" stroke="#146a40" stroke-width="0.9"/>
<line x1="979.12" y1="198.8" x2="979.12" y2="228.1" stroke="#3f474a" stroke-width="1"/>
<rect x="977.37" y="203.4" width="3.5" height="24.7" fill="#1fb870" stroke="#146a40" stroke-width="0.9"/>
<line x1="984.10" y1="196.9" x2="984.10" y2="206.6" stroke="#3f474a" stroke-width="1"/>
<rect x="982.35" y="203.4" width="3.5" height="3.2" fill="#ec6556" stroke="#9a392c" stroke-width="0.9"/>
<line x1="989.07" y1="203.9" x2="989.07" y2="218.2" stroke="#3f474a" stroke-width="1"/>
<rect x="987.32" y="205.0" width="3.5" height="5.8" fill="#ec6556" stroke="#9a392c" stroke-width="0.9"/>
<line x1="994.05" y1="205.7" x2="994.05" y2="218.9" stroke="#3f474a" stroke-width="1"/>
<rect x="992.30" y="208.0" width="3.5" height="2.8" fill="#1fb870" stroke="#146a40" stroke-width="0.9"/>
<line x1="999.02" y1="204.3" x2="999.02" y2="218.9" stroke="#3f474a" stroke-width="1"/>
<rect x="997.27" y="208.0" width="3.5" height="10.9" fill="#ec6556" stroke="#9a392c" stroke-width="0.9"/>
<line x1="1004.00" y1="211.9" x2="1004.00" y2="219.5" stroke="#3f474a" stroke-width="1"/>
<rect x="1002.25" y="214.2" width="3.5" height="3.5" fill="#1fb870" stroke="#146a40" stroke-width="0.9"/>
<line x1="1008.98" y1="208.0" x2="1008.98" y2="214.2" stroke="#3f474a" stroke-width="1"/>
<rect x="1007.23" y="210.3" width="3.5" height="3.9" fill="#1fb870" stroke="#146a40" stroke-width="0.9"/>
<line x1="1013.95" y1="165.8" x2="1013.95" y2="210.8" stroke="#3f474a" stroke-width="1"/>
<rect x="1012.20" y="168.1" width="3.5" height="42.7" fill="#1fb870" stroke="#146a40" stroke-width="0.9"/>
<line x1="1018.93" y1="165.8" x2="1018.93" y2="178.0" stroke="#3f474a" stroke-width="1"/>
<rect x="1017.18" y="168.1" width="3.5" height="8.1" fill="#ec6556" stroke="#9a392c" stroke-width="0.9"/>
<line x1="1023.90" y1="164.2" x2="1023.90" y2="179.6" stroke="#3f474a" stroke-width="1"/>
<line x1="1021.80" y1="175.6" x2="1026.00" y2="175.6" stroke="#146a40" stroke-width="1.2"/>
<line x1="1028.88" y1="160.0" x2="1028.88" y2="179.6" stroke="#3f474a" stroke-width="1"/>
<rect x="1027.13" y="161.8" width="3.5" height="13.2" fill="#1fb870" stroke="#146a40" stroke-width="0.9"/>
<line x1="1033.86" y1="151.2" x2="1033.86" y2="163.4" stroke="#3f474a" stroke-width="1"/>
<rect x="1032.11" y="154.2" width="3.5" height="6.4" fill="#1fb870" stroke="#146a40" stroke-width="0.9"/>
<line x1="1038.83" y1="147.5" x2="1038.83" y2="163.5" stroke="#3f474a" stroke-width="1"/>
<rect x="1037.08" y="153.3" width="3.5" height="8.1" fill="#ec6556" stroke="#9a392c" stroke-width="0.9"/>
<line x1="1043.81" y1="157.4" x2="1043.81" y2="173.5" stroke="#3f474a" stroke-width="1"/>
<rect x="1042.06" y="160.6" width="3.5" height="5.7" fill="#ec6556" stroke="#9a392c" stroke-width="0.9"/>
<line x1="1048.78" y1="155.8" x2="1048.78" y2="166.3" stroke="#3f474a" stroke-width="1"/>
<rect x="1047.03" y="162.3" width="3.5" height="4.0" fill="#1fb870" stroke="#146a40" stroke-width="0.9"/>
<line x1="1053.76" y1="151.7" x2="1053.76" y2="163.4" stroke="#3f474a" stroke-width="1"/>
<rect x="1052.01" y="153.7" width="3.5" height="8.3" fill="#1fb870" stroke="#146a40" stroke-width="0.9"/>
<line x1="1058.74" y1="149.5" x2="1058.74" y2="156.8" stroke="#3f474a" stroke-width="1"/>
<rect x="1056.99" y="150.6" width="3.5" height="4.1" fill="#1fb870" stroke="#146a40" stroke-width="0.9"/>
<line x1="1063.71" y1="137.3" x2="1063.71" y2="154.5" stroke="#3f474a" stroke-width="1"/>
<rect x="1061.96" y="141.6" width="3.5" height="8.8" fill="#1fb870" stroke="#146a40" stroke-width="0.9"/>
<line x1="1068.69" y1="135.0" x2="1068.69" y2="148.4" stroke="#3f474a" stroke-width="1"/>
<rect x="1066.94" y="141.9" width="3.5" height="4.9" fill="#ec6556" stroke="#9a392c" stroke-width="0.9"/>
<line x1="1073.66" y1="146.5" x2="1073.66" y2="166.8" stroke="#3f474a" stroke-width="1"/>
<rect x="1071.91" y="147.8" width="3.5" height="19.0" fill="#ec6556" stroke="#9a392c" stroke-width="0.9"/>
<line x1="1078.64" y1="160.4" x2="1078.64" y2="179.2" stroke="#3f474a" stroke-width="1"/>
<line x1="1076.54" y1="166.3" x2="1080.74" y2="166.3" stroke="#9a392c" stroke-width="1.2"/>
<line x1="1083.62" y1="164.7" x2="1083.62" y2="184.7" stroke="#3f474a" stroke-width="1"/>
<rect x="1081.87" y="165.8" width="3.5" height="12.7" fill="#ec6556" stroke="#9a392c" stroke-width="0.9"/>
<line x1="1088.59" y1="175.0" x2="1088.59" y2="190.4" stroke="#3f474a" stroke-width="1"/>
<rect x="1086.84" y="178.1" width="3.5" height="9.7" fill="#ec6556" stroke="#9a392c" stroke-width="0.9"/>
<line x1="1093.57" y1="185.8" x2="1093.57" y2="195.8" stroke="#3f474a" stroke-width="1"/>
<rect x="1091.82" y="188.1" width="3.5" height="7.7" fill="#ec6556" stroke="#9a392c" stroke-width="0.9"/>
<line x1="1098.54" y1="182.2" x2="1098.54" y2="196.5" stroke="#3f474a" stroke-width="1"/>
<rect x="1096.79" y="187.8" width="3.5" height="7.7" fill="#1fb870" stroke="#146a40" stroke-width="0.9"/>
</g>
<line x1="7" y1="80.6" x2="35.5" y2="49.5" stroke="#4a5a50" stroke-width="1" stroke-dasharray="4.4,4.67"/>
<text x="15" y="63.9" font-size="11" fill="#222">MA (50, close, 0)</text>
<text x="15" y="74.9" font-size="11" fill="#222">MA (200, close, 0)</text>
<text x="17.6" y="299.8" font-size="17" font-weight="bold" fill="#111" stroke="#111" stroke-width="0.55" letter-spacing="-0.05">Investing</text>
<text x="92" y="299.8" font-size="11.5" fill="#555">.com</text>
<circle cx="69" cy="287.3" r="2" fill="#f5a623"/>
<circle cx="1079.4" cy="145.7" r="6.6" fill="#1e8ff0"/>
<text x="1079.4" y="149.6" font-size="10.5" font-weight="bold" fill="#fff" text-anchor="middle">P</text>
<line x1="7" y1="314.1" x2="1194" y2="314.1" stroke="#4d4d4d" stroke-width="1.2"/>
<line x1="7" y1="417.6" x2="1194" y2="417.6" stroke="#4d4d4d" stroke-width="1.2"/>
<line x1="1152.6" y1="48" x2="1152.6" y2="500.5" stroke="#4d4d4d" stroke-width="1.2"/>
<line x1="7" y1="500.2" x2="1153" y2="500.2" stroke="#4d4d4d" stroke-width="1.2"/>
<line x1="1152.6" y1="69.2" x2="1155.5" y2="69.2" stroke="#4d4d4d" stroke-width="1"/>
<text x="1158.3" y="72.9" font-size="9" fill="#555555">1.1300</text>
<line x1="1152.6" y1="93.1" x2="1155.5" y2="93.1" stroke="#4d4d4d" stroke-width="1"/>
<text x="1158.3" y="96.8" font-size="9" fill="#555555">1.1200</text>
<line x1="1152.6" y1="139.9" x2="1155.5" y2="139.9" stroke="#4d4d4d" stroke-width="1"/>
<text x="1158.3" y="143.6" font-size="9" fill="#555555">1.1000</text>
<line x1="1152.6" y1="162.8" x2="1155.5" y2="162.8" stroke="#4d4d4d" stroke-width="1"/>
<text x="1158.3" y="166.5" font-size="9" fill="#555555">1.0900</text>
<line x1="1152.6" y1="233.8" x2="1155.5" y2="233.8" stroke="#4d4d4d" stroke-width="1"/>
<text x="1158.3" y="237.5" font-size="9" fill="#555555">1.0600</text>
<line x1="1152.6" y1="280.4" x2="1155.5" y2="280.4" stroke="#4d4d4d" stroke-width="1"/>
<text x="1158.3" y="284.1" font-size="9" fill="#555555">1.0400</text>
<line x1="1152.6" y1="303.6" x2="1155.5" y2="303.6" stroke="#4d4d4d" stroke-width="1"/>
<text x="1158.3" y="307.3" font-size="9" fill="#555555">1.0300</text>
<rect x="1152.6" y="110.6" width="36.2" height="12.8" fill="#7fcad6"/>
<line x1="1152.6" y1="117.0" x2="1155.5" y2="117.0" stroke="#172a3a" stroke-width="1"/>
<text x="1158.3" y="120.5" font-size="9"  fill="#172a3a">1.1098</text>
<rect x="1152.6" y="146.6" width="36.2" height="12.3" fill="#7fcad6"/>
<line x1="1152.6" y1="152.8" x2="1155.5" y2="152.8" stroke="#172a3a" stroke-width="1"/>
<text x="1158.3" y="156.2" font-size="9"  fill="#172a3a">1.0947</text>
<rect x="1152.6" y="175.3" width="36.2" height="13.2" fill="#ff1a1a"/>
<line x1="1152.6" y1="181.9" x2="1155.5" y2="181.9" stroke="#ffffff" stroke-width="1"/>
<text x="1158.3" y="185.4" font-size="9" font-weight="bold" fill="#ffffff">1.0821</text>
<rect x="1152.6" y="188.5" width="36.2" height="13.0" fill="#5b7fe0"/>
<line x1="1152.6" y1="195.0" x2="1155.5" y2="195.0" stroke="#ffffff" stroke-width="1"/>
<text x="1158.3" y="198.5" font-size="9" font-weight="bold" fill="#ffffff">1.0795</text>
<rect x="1152.6" y="204.6" width="36.2" height="12.8" fill="#0d0df0"/>
<line x1="1152.6" y1="211.0" x2="1155.5" y2="211.0" stroke="#ffffff" stroke-width="1"/>
<text x="1158.3" y="214.5" font-size="9" font-weight="bold" fill="#ffffff">1.0699</text>
<rect x="1152.6" y="217.6" width="36.2" height="12.7" fill="#7fcad6"/>
<line x1="1152.6" y1="223.9" x2="1155.5" y2="223.9" stroke="#172a3a" stroke-width="1"/>
<text x="1158.3" y="227.4" font-size="9"  fill="#172a3a">1.0685</text>
<rect x="1152.6" y="248.6" width="36.2" height="12.6" fill="#7fcad6"/>
<line x1="1152.6" y1="254.9" x2="1155.5" y2="254.9" stroke="#172a3a" stroke-width="1"/>
<text x="1158.3" y="258.4" font-size="9"  fill="#172a3a">1.0511</text>
<g clip-path="url(#mc)">
<line x1="9.20" y1="383" x2="9.20" y2="387.93" stroke="#f06a6a" stroke-width="1"/>
<line x1="14.18" y1="383" x2="14.18" y2="393.59" stroke="#f06a6a" stroke-width="1"/>
<line x1="19.15" y1="383" x2="19.15" y2="397.50" stroke="#f06a6a" stroke-width="1"/>
<line x1="24.13" y1="383" x2="24.13" y2="400.23" stroke="#f06a6a" stroke-width="1"/>
<line x1="29.10" y1="383" x2="29.10" y2="400.58" stroke="#f06a6a" stroke-width="1"/>
<line x1="34.08" y1="383" x2="34.08" y2="401.85" stroke="#f06a6a" stroke-width="1"/>
<line x1="39.06" y1="383" x2="39.06" y2="400.32" stroke="#f06a6a" stroke-width="1"/>
<line x1="44.03" y1="383" x2="44.03" y2="397.61" stroke="#f06a6a" stroke-width="1"/>
<line x1="49.01" y1="383" x2="49.01" y2="396.01" stroke="#f06a6a" stroke-width="1"/>
<line x1="53.98" y1="383" x2="53.98" y2="394.76" stroke="#f06a6a" stroke-width="1"/>
<line x1="58.96" y1="383" x2="58.96" y2="392.69" stroke="#f06a6a" stroke-width="1"/>
<line x1="63.94" y1="383" x2="63.94" y2="391.16" stroke="#f06a6a" stroke-width="1"/>
<line x1="68.91" y1="383" x2="68.91" y2="390.98" stroke="#f06a6a" stroke-width="1"/>
<line x1="73.89" y1="383" x2="73.89" y2="391.63" stroke="#f06a6a" stroke-width="1"/>
<line x1="78.86" y1="383" x2="78.86" y2="391.96" stroke="#f06a6a" stroke-width="1"/>
<line x1="83.84" y1="383" x2="83.84" y2="393.25" stroke="#f06a6a" stroke-width="1"/>
<line x1="88.82" y1="383" x2="88.82" y2="391.51" stroke="#f06a6a" stroke-width="1"/>
<line x1="93.79" y1="383" x2="93.79" y2="390.60" stroke="#f06a6a" stroke-width="1"/>
<line x1="98.77" y1="383" x2="98.77" y2="386.78" stroke="#f06a6a" stroke-width="1"/>
<line x1="103.74" y1="383" x2="103.74" y2="385.79" stroke="#f06a6a" stroke-width="1"/>
<line x1="108.72" y1="383" x2="108.72" y2="383.60" stroke="#f06a6a" stroke-width="1"/>
<line x1="113.70" y1="383" x2="113.70" y2="380.13" stroke="#f06a6a" stroke-width="1"/>
<line x1="118.67" y1="383" x2="118.67" y2="382.00" stroke="#f06a6a" stroke-width="1"/>
<line x1="123.65" y1="383" x2="123.65" y2="383.60" stroke="#f06a6a" stroke-width="1"/>
<line x1="128.62" y1="383" x2="128.62" y2="383.60" stroke="#f06a6a" stroke-width="1"/>
<line x1="133.60" y1="383" x2="133.60" y2="381.12" stroke="#f06a6a" stroke-width="1"/>
<line x1="138.58" y1="383" x2="138.58" y2="377.19" stroke="#f06a6a" stroke-width="1"/>
<line x1="143.55" y1="383" x2="143.55" y2="374.50" stroke="#f06a6a" stroke-width="1"/>
<line x1="148.53" y1="383" x2="148.53" y2="377.66" stroke="#f06a6a" stroke-width="1"/>
<line x1="153.50" y1="383" x2="153.50" y2="378.93" stroke="#f06a6a" stroke-width="1"/>
<line x1="158.48" y1="383" x2="158.48" y2="377.86" stroke="#f06a6a" stroke-width="1"/>
<line x1="163.46" y1="383" x2="163.46" y2="376.00" stroke="#f06a6a" stroke-width="1"/>
<line x1="168.43" y1="383" x2="168.43" y2="373.72" stroke="#f06a6a" stroke-width="1"/>
<line x1="173.41" y1="383" x2="173.41" y2="370.17" stroke="#f06a6a" stroke-width="1"/>
<line x1="178.38" y1="383" x2="178.38" y2="369.11" stroke="#f06a6a" stroke-width="1"/>
<line x1="183.36" y1="383" x2="183.36" y2="371.06" stroke="#f06a6a" stroke-width="1"/>
<line x1="188.34" y1="383" x2="188.34" y2="371.55" stroke="#f06a6a" stroke-width="1"/>
<line x1="193.31" y1="383" x2="193.31" y2="371.51" stroke="#f06a6a" stroke-width="1"/>
<line x1="198.29" y1="383" x2="198.29" y2="372.64" stroke="#f06a6a" stroke-width="1"/>
<line x1="203.26" y1="383" x2="203.26" y2="372.40" stroke="#f06a6a" stroke-width="1"/>
<line x1="208.24" y1="383" x2="208.24" y2="375.06" stroke="#f06a6a" stroke-width="1"/>
<line x1="213.22" y1="383" x2="213.22" y2="375.65" stroke="#f06a6a" stroke-width="1"/>
<line x1="218.19" y1="383" x2="218.19" y2="374.73" stroke="#f06a6a" stroke-width="1"/>
<line x1="223.17" y1="383" x2="223.17" y2="376.08" stroke="#f06a6a" stroke-width="1"/>
<line x1="228.14" y1="383" x2="228.14" y2="377.14" stroke="#f06a6a" stroke-width="1"/>
<line x1="233.12" y1="383" x2="233.12" y2="379.33" stroke="#f06a6a" stroke-width="1"/>
<line x1="238.10" y1="383" x2="238.10" y2="382.30" stroke="#f06a6a" stroke-width="1"/>
<line x1="243.07" y1="383" x2="243.07" y2="383.60" stroke="#f06a6a" stroke-width="1"/>
<line x1="248.05" y1="383" x2="248.05" y2="381.39" stroke="#f06a6a" stroke-width="1"/>
<line x1="253.02" y1="383" x2="253.02" y2="379.06" stroke="#f06a6a" stroke-width="1"/>
<line x1="258.00" y1="383" x2="258.00" y2="379.20" stroke="#f06a6a" stroke-width="1"/>
<line x1="262.98" y1="383" x2="262.98" y2="381.70" stroke="#f06a6a" stroke-width="1"/>
<line x1="267.95" y1="383" x2="267.95" y2="382.40" stroke="#f06a6a" stroke-width="1"/>
<line x1="272.93" y1="383" x2="272.93" y2="383.72" stroke="#f06a6a" stroke-width="1"/>
<line x1="277.90" y1="383" x2="277.90" y2="384.51" stroke="#f06a6a" stroke-width="1"/>
<line x1="282.88" y1="383" x2="282.88" y2="384.87" stroke="#f06a6a" stroke-width="1"/>
<line x1="287.86" y1="383" x2="287.86" y2="383.87" stroke="#f06a6a" stroke-width="1"/>
<line x1="292.83" y1="383" x2="292.83" y2="385.39" stroke="#f06a6a" stroke-width="1"/>
<line x1="297.81" y1="383" x2="297.81" y2="384.15" stroke="#f06a6a" stroke-width="1"/>
<line x1="302.78" y1="383" x2="302.78" y2="383.77" stroke="#f06a6a" stroke-width="1"/>
<line x1="307.76" y1="383" x2="307.76" y2="384.17" stroke="#f06a6a" stroke-width="1"/>
<line x1="312.74" y1="383" x2="312.74" y2="385.94" stroke="#f06a6a" stroke-width="1"/>
<line x1="317.71" y1="383" x2="317.71" y2="386.65" stroke="#f06a6a" stroke-width="1"/>
<line x1="322.69" y1="383" x2="322.69" y2="385.44" stroke="#f06a6a" stroke-width="1"/>
<line x1="327.66" y1="383" x2="327.66" y2="386.06" stroke="#f06a6a" stroke-width="1"/>
<line x1="332.64" y1="383" x2="332.64" y2="386.44" stroke="#f06a6a" stroke-width="1"/>
<line x1="337.62" y1="383" x2="337.62" y2="387.03" stroke="#f06a6a" stroke-width="1"/>
<line x1="342.59" y1="383" x2="342.59" y2="388.79" stroke="#f06a6a" stroke-width="1"/>
<line x1="347.57" y1="383" x2="347.57" y2="389.14" stroke="#f06a6a" stroke-width="1"/>
<line x1="352.54" y1="383" x2="352.54" y2="391.28" stroke="#f06a6a" stroke-width="1"/>
<line x1="357.52" y1="383" x2="357.52" y2="394.52" stroke="#f06a6a" stroke-width="1"/>
<line x1="362.50" y1="383" x2="362.50" y2="395.59" stroke="#f06a6a" stroke-width="1"/>
<line x1="367.47" y1="383" x2="367.47" y2="396.05" stroke="#f06a6a" stroke-width="1"/>
<line x1="372.45" y1="383" x2="372.45" y2="396.32" stroke="#f06a6a" stroke-width="1"/>
<line x1="377.42" y1="383" x2="377.42" y2="397.85" stroke="#f06a6a" stroke-width="1"/>
<line x1="382.40" y1="383" x2="382.40" y2="396.84" stroke="#f06a6a" stroke-width="1"/>
<line x1="387.38" y1="383" x2="387.38" y2="395.20" stroke="#f06a6a" stroke-width="1"/>
<line x1="392.35" y1="383" x2="392.35" y2="394.40" stroke="#f06a6a" stroke-width="1"/>
<line x1="397.33" y1="383" x2="397.33" y2="393.77" stroke="#f06a6a" stroke-width="1"/>
<line x1="402.30" y1="383" x2="402.30" y2="393.60" stroke="#f06a6a" stroke-width="1"/>
<line x1="407.28" y1="383" x2="407.28" y2="392.56" stroke="#f06a6a" stroke-width="1"/>
<line x1="412.26" y1="383" x2="412.26" y2="391.70" stroke="#f06a6a" stroke-width="1"/>
<line x1="417.23" y1="383" x2="417.23" y2="389.55" stroke="#f06a6a" stroke-width="1"/>
<line x1="422.21" y1="383" x2="422.21" y2="389.15" stroke="#f06a6a" stroke-width="1"/>
<line x1="427.18" y1="383" x2="427.18" y2="385.95" stroke="#f06a6a" stroke-width="1"/>
<line x1="432.16" y1="383" x2="432.16" y2="385.03" stroke="#f06a6a" stroke-width="1"/>
<line x1="437.14" y1="383" x2="437.14" y2="383.74" stroke="#f06a6a" stroke-width="1"/>
<line x1="442.11" y1="383" x2="442.11" y2="383.60" stroke="#f06a6a" stroke-width="1"/>
<line x1="447.09" y1="383" x2="447.09" y2="382.40" stroke="#f06a6a" stroke-width="1"/>
<line x1="452.06" y1="383" x2="452.06" y2="379.42" stroke="#f06a6a" stroke-width="1"/>
<line x1="457.04" y1="383" x2="457.04" y2="378.38" stroke="#f06a6a" stroke-width="1"/>
<line x1="462.02" y1="383" x2="462.02" y2="377.29" stroke="#f06a6a" stroke-width="1"/>
<line x1="466.99" y1="383" x2="466.99" y2="375.84" stroke="#f06a6a" stroke-width="1"/>
<line x1="471.97" y1="383" x2="471.97" y2="373.60" stroke="#f06a6a" stroke-width="1"/>
<line x1="476.94" y1="383" x2="476.94" y2="368.96" stroke="#f06a6a" stroke-width="1"/>
<line x1="481.92" y1="383" x2="481.92" y2="366.80" stroke="#f06a6a" stroke-width="1"/>
<line x1="486.90" y1="383" x2="486.90" y2="366.56" stroke="#f06a6a" stroke-width="1"/>
<line x1="491.87" y1="383" x2="491.87" y2="367.50" stroke="#f06a6a" stroke-width="1"/>
<line x1="496.85" y1="383" x2="496.85" y2="366.92" stroke="#f06a6a" stroke-width="1"/>
<line x1="501.82" y1="383" x2="501.82" y2="368.46" stroke="#f06a6a" stroke-width="1"/>
<line x1="506.80" y1="383" x2="506.80" y2="372.58" stroke="#f06a6a" stroke-width="1"/>
<line x1="511.78" y1="383" x2="511.78" y2="375.78" stroke="#f06a6a" stroke-width="1"/>
<line x1="516.75" y1="383" x2="516.75" y2="377.02" stroke="#f06a6a" stroke-width="1"/>
<line x1="521.73" y1="383" x2="521.73" y2="379.59" stroke="#f06a6a" stroke-width="1"/>
<line x1="526.70" y1="383" x2="526.70" y2="382.40" stroke="#f06a6a" stroke-width="1"/>
<line x1="531.68" y1="383" x2="531.68" y2="383.97" stroke="#f06a6a" stroke-width="1"/>
<line x1="536.66" y1="383" x2="536.66" y2="384.66" stroke="#f06a6a" stroke-width="1"/>
<line x1="541.63" y1="383" x2="541.63" y2="385.93" stroke="#f06a6a" stroke-width="1"/>
<line x1="546.61" y1="383" x2="546.61" y2="387.44" stroke="#f06a6a" stroke-width="1"/>
<line x1="551.58" y1="383" x2="551.58" y2="387.18" stroke="#f06a6a" stroke-width="1"/>
<line x1="556.56" y1="383" x2="556.56" y2="384.53" stroke="#f06a6a" stroke-width="1"/>
<line x1="561.54" y1="383" x2="561.54" y2="381.53" stroke="#f06a6a" stroke-width="1"/>
<line x1="566.51" y1="383" x2="566.51" y2="379.36" stroke="#f06a6a" stroke-width="1"/>
<line x1="571.49" y1="383" x2="571.49" y2="374.53" stroke="#f06a6a" stroke-width="1"/>
<line x1="576.46" y1="383" x2="576.46" y2="368.82" stroke="#f06a6a" stroke-width="1"/>
<line x1="581.44" y1="383" x2="581.44" y2="365.42" stroke="#f06a6a" stroke-width="1"/>
<line x1="586.42" y1="383" x2="586.42" y2="364.11" stroke="#f06a6a" stroke-width="1"/>
<line x1="591.39" y1="383" x2="591.39" y2="365.13" stroke="#f06a6a" stroke-width="1"/>
<line x1="596.37" y1="383" x2="596.37" y2="368.25" stroke="#f06a6a" stroke-width="1"/>
<line x1="601.34" y1="383" x2="601.34" y2="373.88" stroke="#f06a6a" stroke-width="1"/>
<line x1="606.32" y1="383" x2="606.32" y2="379.05" stroke="#f06a6a" stroke-width="1"/>
<line x1="611.30" y1="383" x2="611.30" y2="385.39" stroke="#f06a6a" stroke-width="1"/>
<line x1="616.27" y1="383" x2="616.27" y2="390.33" stroke="#f06a6a" stroke-width="1"/>
<line x1="621.25" y1="383" x2="621.25" y2="392.52" stroke="#f06a6a" stroke-width="1"/>
<line x1="626.22" y1="383" x2="626.22" y2="396.93" stroke="#f06a6a" stroke-width="1"/>
<line x1="631.20" y1="383" x2="631.20" y2="397.88" stroke="#f06a6a" stroke-width="1"/>
<line x1="636.18" y1="383" x2="636.18" y2="398.37" stroke="#f06a6a" stroke-width="1"/>
<line x1="641.15" y1="383" x2="641.15" y2="398.06" stroke="#f06a6a" stroke-width="1"/>
<line x1="646.13" y1="383" x2="646.13" y2="398.53" stroke="#f06a6a" stroke-width="1"/>
<line x1="651.10" y1="383" x2="651.10" y2="397.73" stroke="#f06a6a" stroke-width="1"/>
<line x1="656.08" y1="383" x2="656.08" y2="394.62" stroke="#f06a6a" stroke-width="1"/>
<line x1="661.06" y1="383" x2="661.06" y2="392.15" stroke="#f06a6a" stroke-width="1"/>
<line x1="666.03" y1="383" x2="666.03" y2="391.22" stroke="#f06a6a" stroke-width="1"/>
<line x1="671.01" y1="383" x2="671.01" y2="389.76" stroke="#f06a6a" stroke-width="1"/>
<line x1="675.98" y1="383" x2="675.98" y2="388.12" stroke="#f06a6a" stroke-width="1"/>
<line x1="680.96" y1="383" x2="680.96" y2="387.83" stroke="#f06a6a" stroke-width="1"/>
<line x1="685.94" y1="383" x2="685.94" y2="388.69" stroke="#f06a6a" stroke-width="1"/>
<line x1="690.91" y1="383" x2="690.91" y2="389.17" stroke="#f06a6a" stroke-width="1"/>
<line x1="695.89" y1="383" x2="695.89" y2="390.15" stroke="#f06a6a" stroke-width="1"/>
<line x1="700.86" y1="383" x2="700.86" y2="390.47" stroke="#f06a6a" stroke-width="1"/>
<line x1="705.84" y1="383" x2="705.84" y2="390.33" stroke="#f06a6a" stroke-width="1"/>
<line x1="710.82" y1="383" x2="710.82" y2="388.93" stroke="#f06a6a" stroke-width="1"/>
<line x1="715.79" y1="383" x2="715.79" y2="388.96" stroke="#f06a6a" stroke-width="1"/>
<line x1="720.77" y1="383" x2="720.77" y2="387.76" stroke="#f06a6a" stroke-width="1"/>
<line x1="725.74" y1="383" x2="725.74" y2="388.08" stroke="#f06a6a" stroke-width="1"/>
<line x1="730.72" y1="383" x2="730.72" y2="388.10" stroke="#f06a6a" stroke-width="1"/>
<line x1="735.70" y1="383" x2="735.70" y2="387.23" stroke="#f06a6a" stroke-width="1"/>
<line x1="740.67" y1="383" x2="740.67" y2="384.50" stroke="#f06a6a" stroke-width="1"/>
<line x1="745.65" y1="383" x2="745.65" y2="381.03" stroke="#f06a6a" stroke-width="1"/>
<line x1="750.62" y1="383" x2="750.62" y2="381.00" stroke="#f06a6a" stroke-width="1"/>
<line x1="755.60" y1="383" x2="755.60" y2="382.40" stroke="#f06a6a" stroke-width="1"/>
<line x1="760.58" y1="383" x2="760.58" y2="383.60" stroke="#f06a6a" stroke-width="1"/>
<line x1="765.55" y1="383" x2="765.55" y2="385.94" stroke="#f06a6a" stroke-width="1"/>
<line x1="770.53" y1="383" x2="770.53" y2="387.13" stroke="#f06a6a" stroke-width="1"/>
<line x1="775.50" y1="383" x2="775.50" y2="388.72" stroke="#f06a6a" stroke-width="1"/>
<line x1="780.48" y1="383" x2="780.48" y2="389.32" stroke="#f06a6a" stroke-width="1"/>
<line x1="785.46" y1="383" x2="785.46" y2="387.68" stroke="#f06a6a" stroke-width="1"/>
<line x1="790.43" y1="383" x2="790.43" y2="385.51" stroke="#f06a6a" stroke-width="1"/>
<line x1="795.41" y1="383" x2="795.41" y2="384.21" stroke="#f06a6a" stroke-width="1"/>
<line x1="800.38" y1="383" x2="800.38" y2="385.68" stroke="#f06a6a" stroke-width="1"/>
<line x1="805.36" y1="383" x2="805.36" y2="385.71" stroke="#f06a6a" stroke-width="1"/>
<line x1="810.34" y1="383" x2="810.34" y2="384.43" stroke="#f06a6a" stroke-width="1"/>
<line x1="815.31" y1="383" x2="815.31" y2="383.62" stroke="#f06a6a" stroke-width="1"/>
<line x1="820.29" y1="383" x2="820.29" y2="383.60" stroke="#f06a6a" stroke-width="1"/>
<line x1="825.26" y1="383" x2="825.26" y2="383.60" stroke="#f06a6a" stroke-width="1"/>
<line x1="830.24" y1="383" x2="830.24" y2="382.40" stroke="#f06a6a" stroke-width="1"/>
<line x1="835.22" y1="383" x2="835.22" y2="384.08" stroke="#f06a6a" stroke-width="1"/>
<line x1="840.19" y1="383" x2="840.19" y2="385.14" stroke="#f06a6a" stroke-width="1"/>
<line x1="845.17" y1="383" x2="845.17" y2="387.87" stroke="#f06a6a" stroke-width="1"/>
<line x1="850.14" y1="383" x2="850.14" y2="387.42" stroke="#f06a6a" stroke-width="1"/>
<line x1="855.12" y1="383" x2="855.12" y2="386.23" stroke="#f06a6a" stroke-width="1"/>
<line x1="860.10" y1="383" x2="860.10" y2="387.75" stroke="#f06a6a" stroke-width="1"/>
<line x1="865.07" y1="383" x2="865.07" y2="388.51" stroke="#f06a6a" stroke-width="1"/>
<line x1="870.05" y1="383" x2="870.05" y2="387.16" stroke="#f06a6a" stroke-width="1"/>
<line x1="875.02" y1="383" x2="875.02" y2="384.05" stroke="#f06a6a" stroke-width="1"/>
<line x1="880.00" y1="383" x2="880.00" y2="380.41" stroke="#f06a6a" stroke-width="1"/>
<line x1="884.98" y1="383" x2="884.98" y2="378.08" stroke="#f06a6a" stroke-width="1"/>
<line x1="889.95" y1="383" x2="889.95" y2="375.64" stroke="#f06a6a" stroke-width="1"/>
<line x1="894.93" y1="383" x2="894.93" y2="373.46" stroke="#f06a6a" stroke-width="1"/>
<line x1="899.90" y1="383" x2="899.90" y2="374.84" stroke="#f06a6a" stroke-width="1"/>
<line x1="904.88" y1="383" x2="904.88" y2="376.59" stroke="#f06a6a" stroke-width="1"/>
<line x1="909.86" y1="383" x2="909.86" y2="376.85" stroke="#f06a6a" stroke-width="1"/>
<line x1="914.83" y1="383" x2="914.83" y2="376.90" stroke="#f06a6a" stroke-width="1"/>
<line x1="919.81" y1="383" x2="919.81" y2="378.26" stroke="#f06a6a" stroke-width="1"/>
<line x1="924.78" y1="383" x2="924.78" y2="377.85" stroke="#f06a6a" stroke-width="1"/>
<line x1="929.76" y1="383" x2="929.76" y2="377.19" stroke="#f06a6a" stroke-width="1"/>
<line x1="934.74" y1="383" x2="934.74" y2="374.46" stroke="#f06a6a" stroke-width="1"/>
<line x1="939.71" y1="383" x2="939.71" y2="375.01" stroke="#f06a6a" stroke-width="1"/>
<line x1="944.69" y1="383" x2="944.69" y2="376.57" stroke="#f06a6a" stroke-width="1"/>
<line x1="949.66" y1="383" x2="949.66" y2="378.19" stroke="#f06a6a" stroke-width="1"/>
<line x1="954.64" y1="383" x2="954.64" y2="379.30" stroke="#f06a6a" stroke-width="1"/>
<line x1="959.62" y1="383" x2="959.62" y2="378.60" stroke="#f06a6a" stroke-width="1"/>
<line x1="964.59" y1="383" x2="964.59" y2="379.69" stroke="#f06a6a" stroke-width="1"/>
<line x1="969.57" y1="383" x2="969.57" y2="380.76" stroke="#f06a6a" stroke-width="1"/>
<line x1="974.54" y1="383" x2="974.54" y2="379.93" stroke="#f06a6a" stroke-width="1"/>
<line x1="979.52" y1="383" x2="979.52" y2="375.87" stroke="#f06a6a" stroke-width="1"/>
<line x1="984.50" y1="383" x2="984.50" y2="373.71" stroke="#f06a6a" stroke-width="1"/>
<line x1="989.47" y1="383" x2="989.47" y2="373.24" stroke="#f06a6a" stroke-width="1"/>
<line x1="994.45" y1="383" x2="994.45" y2="373.14" stroke="#f06a6a" stroke-width="1"/>
<line x1="999.42" y1="383" x2="999.42" y2="375.12" stroke="#f06a6a" stroke-width="1"/>
<line x1="1004.40" y1="383" x2="1004.40" y2="376.33" stroke="#f06a6a" stroke-width="1"/>
<line x1="1009.38" y1="383" x2="1009.38" y2="377.26" stroke="#f06a6a" stroke-width="1"/>
<line x1="1014.35" y1="383" x2="1014.35" y2="373.14" stroke="#f06a6a" stroke-width="1"/>
<line x1="1019.33" y1="383" x2="1019.33" y2="372.04" stroke="#f06a6a" stroke-width="1"/>
<line x1="1024.30" y1="383" x2="1024.30" y2="371.58" stroke="#f06a6a" stroke-width="1"/>
<line x1="1029.28" y1="383" x2="1029.28" y2="370.16" stroke="#f06a6a" stroke-width="1"/>
<line x1="1034.26" y1="383" x2="1034.26" y2="369.01" stroke="#f06a6a" stroke-width="1"/>
<line x1="1039.23" y1="383" x2="1039.23" y2="370.05" stroke="#f06a6a" stroke-width="1"/>
<line x1="1044.21" y1="383" x2="1044.21" y2="372.57" stroke="#f06a6a" stroke-width="1"/>
<line x1="1049.18" y1="383" x2="1049.18" y2="374.91" stroke="#f06a6a" stroke-width="1"/>
<line x1="1054.16" y1="383" x2="1054.16" y2="376.51" stroke="#f06a6a" stroke-width="1"/>
<line x1="1059.14" y1="383" x2="1059.14" y2="377.67" stroke="#f06a6a" stroke-width="1"/>
<line x1="1064.11" y1="383" x2="1064.11" y2="377.89" stroke="#f06a6a" stroke-width="1"/>
<line x1="1069.09" y1="383" x2="1069.09" y2="379.32" stroke="#f06a6a" stroke-width="1"/>
<line x1="1074.06" y1="383" x2="1074.06" y2="383.60" stroke="#f06a6a" stroke-width="1"/>
<line x1="1079.04" y1="383" x2="1079.04" y2="386.21" stroke="#f06a6a" stroke-width="1"/>
<line x1="1084.02" y1="383" x2="1084.02" y2="389.86" stroke="#f06a6a" stroke-width="1"/>
<line x1="1088.99" y1="383" x2="1088.99" y2="393.65" stroke="#f06a6a" stroke-width="1"/>
<line x1="1093.97" y1="383" x2="1093.97" y2="397.11" stroke="#f06a6a" stroke-width="1"/>
<line x1="1098.94" y1="383" x2="1098.94" y2="397.96" stroke="#f06a6a" stroke-width="1"/>
<polyline points="7.0,349.8 8.8,351.9 13.8,359.1 18.8,365.1 23.7,370.5 28.7,373.9 33.7,378.8 38.7,381.1 43.6,382.4 48.6,385.0 53.6,387.7 58.6,389.0 63.5,390.2 68.5,392.5 73.5,395.5 78.5,398.0 83.4,401.6 88.4,402.0 93.4,403.1 98.4,400.7 103.3,401.1 108.3,399.8 113.3,397.0 118.3,399.3 123.2,400.9 128.2,400.7 133.2,398.2 138.2,393.2 143.2,389.2 148.1,391.3 153.1,391.7 158.1,389.8 163.1,386.5 168.0,382.1 173.0,375.8 178.0,371.8 183.0,371.3 187.9,369.7 192.9,366.9 197.9,365.1 202.9,361.7 207.8,361.6 212.8,359.7 217.8,356.7 222.8,356.3 227.7,355.6 232.7,356.3 237.7,358.4 242.7,358.5 247.6,356.1 252.6,352.8 257.6,352.1 262.6,354.3 267.6,354.9 272.5,356.2 277.5,357.1 282.5,357.3 287.5,356.1 292.4,357.8 297.4,357.0 302.4,357.2 307.4,358.0 312.3,360.4 317.3,361.7 322.3,360.9 327.3,362.1 332.2,363.3 337.2,364.6 342.2,367.5 347.2,369.2 352.1,373.0 357.1,378.3 362.1,381.5 367.1,384.6 372.0,387.7 377.0,392.5 382.0,394.9 387.0,396.5 392.0,399.0 396.9,401.5 401.9,404.2 406.9,405.9 411.9,407.6 416.8,407.6 421.8,409.0 426.8,407.2 431.8,407.5 436.7,407.1 441.7,407.4 446.7,407.0 451.7,403.5 456.6,401.9 461.6,399.9 466.6,397.1 471.6,393.4 476.5,386.4 481.5,381.4 486.5,377.8 491.5,375.2 496.4,371.0 501.4,368.9 506.4,369.7 511.4,369.9 516.4,368.3 521.3,368.9 526.3,371.2 531.3,371.5 536.3,371.8 541.2,373.3 546.2,375.6 551.2,376.0 556.2,373.8 561.1,371.1 566.1,368.9 571.1,363.2 576.1,355.8 581.0,349.9 586.0,345.5 591.0,342.9 596.0,342.3 600.9,344.7 605.9,347.2 610.9,351.6 615.9,355.8 620.8,358.2 625.8,364.2 630.8,367.6 635.8,371.3 640.8,374.5 645.7,378.8 650.7,381.8 655.7,382.1 660.7,382.6 665.6,384.6 670.6,385.5 675.6,385.9 680.6,387.4 685.5,390.0 690.5,391.9 695.5,394.3 700.5,396.2 705.4,397.7 710.4,397.8 715.4,399.4 720.4,399.7 725.3,401.6 730.3,403.1 735.3,403.5 740.3,401.6 745.2,398.3 750.2,398.4 755.2,400.6 760.2,401.4 765.2,404.4 770.1,406.0 775.1,408.2 780.1,409.5 785.1,408.6 790.0,407.5 795.0,407.1 800.0,409.6 805.0,410.7 809.9,410.0 814.9,409.6 819.9,409.6 824.9,409.3 829.8,409.1 834.8,410.6 839.8,412.2 844.8,415.6 849.7,415.7 854.7,415.1 859.7,417.5 864.7,419.3 869.6,419.1 874.6,416.8 879.6,413.5 884.6,411.1 889.6,407.7 894.5,404.3 899.5,404.5 904.5,404.8 909.5,403.3 914.4,401.4 919.4,401.0 924.4,399.0 929.4,396.7 934.3,392.3 939.3,391.4 944.3,391.5 949.3,391.7 954.2,391.5 959.2,389.4 964.2,389.2 969.2,389.2 974.1,387.3 979.1,382.1 984.1,378.5 989.1,376.4 994.0,374.4 999.0,374.5 1004.0,373.9 1009.0,373.1 1014.0,366.4 1018.9,362.6 1023.9,359.6 1028.9,355.7 1033.9,351.8 1038.8,350.1 1043.8,349.9 1048.8,349.5 1053.8,348.4 1058.7,347.5 1063.7,345.8 1068.7,345.7 1073.7,348.9 1078.6,351.8 1083.6,356.2 1088.6,361.2 1093.6,366.6 1098.5,369.8" fill="none" stroke="#6464ee" stroke-width="1.1"/>
<polyline points="7.0,346.6 8.8,347.0 13.8,348.5 18.8,350.6 23.7,353.3 28.7,356.4 33.7,360.0 38.7,363.8 43.6,367.8 48.6,372.0 53.6,376.0 58.6,379.3 63.5,382.1 68.5,384.5 73.5,386.9 78.5,389.1 83.4,391.3 88.4,393.5 93.4,395.5 98.4,397.0 103.3,398.3 108.3,399.4 113.3,399.9 118.3,400.3 123.2,400.6 128.2,400.5 133.2,400.1 138.2,399.0 143.2,397.7 148.1,396.6 153.1,395.7 158.1,394.9 163.1,393.5 168.0,391.4 173.0,388.6 178.0,385.7 183.0,383.3 187.9,381.1 192.9,378.4 197.9,375.5 202.9,372.3 207.8,369.6 212.8,367.1 217.8,365.0 222.8,363.2 227.7,361.5 232.7,360.0 237.7,359.1 242.7,358.3 247.6,357.7 252.6,356.7 257.6,355.9 262.6,355.6 267.6,355.4 272.5,355.5 277.5,355.6 282.5,355.5 287.5,355.2 292.4,355.4 297.4,355.9 302.4,356.4 307.4,356.8 312.3,357.5 317.3,358.1 322.3,358.5 327.3,359.0 332.2,359.8 337.2,360.6 342.2,361.8 347.2,363.1 352.1,364.8 357.1,366.7 362.1,368.9 367.1,371.6 372.0,374.4 377.0,377.7 382.0,381.0 387.0,384.3 392.0,387.6 396.9,390.7 401.9,393.6 406.9,396.3 411.9,398.9 416.8,401.1 421.8,402.9 426.8,404.3 431.8,405.5 436.7,406.4 441.7,407.1 446.7,407.4 451.7,407.1 456.6,406.5 461.6,405.6 466.6,404.3 471.6,402.8 476.5,400.4 481.5,397.6 486.5,394.3 491.5,390.7 496.4,387.1 501.4,383.5 506.4,380.1 511.4,377.1 516.4,374.3 521.3,372.4 526.3,371.2 531.3,370.5 536.3,370.1 541.2,370.4 546.2,371.1 551.2,371.8 556.2,372.3 561.1,372.6 566.1,372.6 571.1,371.7 576.1,370.0 581.0,367.5 586.0,364.4 591.0,360.8 596.0,357.1 600.9,353.8 605.9,351.2 610.9,349.3 615.9,348.4 620.8,348.7 625.8,350.3 630.8,352.7 635.8,355.9 640.8,359.5 645.7,363.3 650.7,367.1 655.7,370.5 660.7,373.5 665.6,376.4 670.6,378.8 675.6,380.8 680.6,382.6 685.5,384.3 690.5,385.8 695.5,387.2 700.5,388.7 705.4,390.4 710.4,391.9 715.4,393.4 720.4,394.9 725.3,396.5 730.3,398.0 735.3,399.3 740.3,400.1 745.2,400.3 750.2,400.4 755.2,400.7 760.2,400.9 765.2,401.4 770.1,401.9 775.1,402.5 780.1,403.2 785.1,403.9 790.0,405.0 795.0,405.9 800.0,406.9 805.0,408.0 809.9,408.6 814.9,409.0 819.9,409.1 824.9,409.1 829.8,409.2 834.8,409.5 839.8,410.1 844.8,410.7 849.7,411.3 854.7,411.9 859.7,412.8 864.7,413.8 869.6,414.9 874.6,415.8 879.6,416.1 884.6,416.0 889.6,415.1 894.5,413.8 899.5,412.7 904.5,411.2 909.5,409.5 914.4,407.5 919.4,405.7 924.4,404.1 929.4,402.5 934.3,400.8 939.3,399.4 944.3,397.9 949.3,396.5 954.2,395.2 959.2,393.8 964.2,392.5 969.2,391.4 974.1,390.4 979.1,389.2 984.1,387.8 989.1,386.1 994.0,384.2 999.0,382.3 1004.0,380.6 1009.0,378.8 1014.0,376.3 1018.9,373.5 1023.9,371.0 1028.9,368.5 1033.9,365.8 1038.8,363.1 1043.8,360.3 1048.8,357.6 1053.8,354.9 1058.7,352.8 1063.7,350.9 1068.7,349.4 1073.7,348.6 1078.6,348.6 1083.6,349.3 1088.6,350.6 1093.6,352.5 1098.5,354.8" fill="none" stroke="#f06565" stroke-width="1.1"/>
</g>
<text x="15.3" y="331" font-size="11" fill="#222">MACD (12, 26, close, 9)</text>
<line x1="1152.6" y1="340.7" x2="1155.5" y2="340.7" stroke="#4d4d4d" stroke-width="1"/>
<text x="1158.3" y="344.4" font-size="9" fill="#555555">0.0100</text>
<line x1="1152.6" y1="383.0" x2="1155.5" y2="383.0" stroke="#4d4d4d" stroke-width="1"/>
<text x="1158.3" y="386.7" font-size="9" fill="#555555">0.0000</text>
<rect x="1152.6" y="348.1" width="36.2" height="12.7" fill="#ff1a1a"/>
<line x1="1152.6" y1="354.5" x2="1155.5" y2="354.5" stroke="#ffffff" stroke-width="1"/>
<text x="1158.3" y="358.0" font-size="9" font-weight="bold" fill="#ffffff">0.0066</text>
<rect x="1152.6" y="364.1" width="36.2" height="12.5" fill="#0d0df0"/>
<line x1="1152.6" y1="370.4" x2="1155.5" y2="370.4" stroke="#ffffff" stroke-width="1"/>
<text x="1158.3" y="373.9" font-size="9" font-weight="bold" fill="#ffffff">0.0031</text>
<rect x="1152.6" y="393.1" width="40.4" height="12.5" fill="#ff1a1a"/>
<line x1="1152.6" y1="399.4" x2="1155.5" y2="399.4" stroke="#ffffff" stroke-width="1"/>
<text x="1158.3" y="402.9" font-size="9" font-weight="bold" fill="#ffffff">-0.0035</text>
<rect x="7" y="421" width="1145.6" height="79" fill="#f2e4f2"/>
<line x1="7" y1="421.8" x2="1152" y2="421.8" stroke="#8a8a8a" stroke-width="1.2" stroke-dasharray="5,4"/>
<line x1="7" y1="468.9" x2="1152" y2="468.9" stroke="#8cb8de" stroke-width="1.3"/>
<g clip-path="url(#rc)">
<polyline points="7.0,458.8 8.8,464.6 13.8,483.7 18.8,485.1 23.7,489.4 28.7,479.4 33.7,496.2 38.7,481.3 43.6,476.0 48.6,489.4 53.6,494.4 58.6,486.2 63.5,489.1 68.5,499.6 73.5,509.2 78.5,510.6 83.4,521.8 88.4,498.2 93.4,504.7 98.4,477.5 103.3,493.7 108.3,482.9 113.3,471.3 118.3,498.7 123.2,498.7 128.2,489.3 133.2,474.8 138.2,458.0 143.2,458.6 148.1,489.3 153.1,482.3 158.1,470.8 163.1,461.8 168.0,453.4 173.0,441.0 178.0,446.8 183.0,462.4 187.9,455.6 192.9,448.5 197.9,449.5 202.9,440.0 207.8,455.4 212.8,446.1 217.8,438.6 222.8,450.1 227.7,446.9 232.7,453.3 237.7,461.2 242.7,452.1 247.6,439.5 252.6,432.5 257.6,443.7 262.6,459.7 267.6,452.5 272.5,456.4 277.5,453.9 282.5,450.0 287.5,441.3 292.4,458.8 297.4,446.9 302.4,450.4 307.4,453.2 312.3,463.9 317.3,459.0 322.3,447.6 327.3,459.0 332.2,459.3 337.2,460.9 342.2,473.8 347.2,468.2 352.1,484.9 357.1,497.8 362.1,490.7 367.1,493.9 372.0,498.4 377.0,511.8 382.0,500.3 387.0,499.0 392.0,507.5 396.9,511.7 401.9,516.8 406.9,514.5 411.9,518.2 416.8,506.9 421.8,517.1 426.8,490.8 431.8,503.3 436.7,500.1 441.7,505.2 446.7,502.3 451.7,476.2 456.6,485.5 461.6,482.0 466.6,473.3 471.6,462.3 476.5,438.8 481.5,443.1 486.5,446.6 491.5,447.7 496.4,434.5 501.4,444.5 506.4,464.0 511.4,460.1 516.4,448.5 521.3,462.4 526.3,474.4 531.3,463.5 536.3,463.1 541.2,472.3 546.2,479.4 551.2,468.6 556.2,451.3 561.1,445.2 566.1,444.0 571.1,423.6 576.1,412.1 581.0,411.2 586.0,410.5 591.0,414.8 596.0,424.7 600.9,447.1 605.9,448.8 610.9,465.5 615.9,467.9 620.8,460.3 625.8,487.3 630.8,476.6 635.8,481.7 640.8,483.6 645.7,493.9 650.7,491.0 655.7,474.3 660.7,476.4 665.6,487.8 670.6,482.4 675.6,479.9 680.6,489.2 685.5,499.2 690.5,499.2 695.5,505.6 700.5,506.8 705.4,508.2 710.4,496.6 715.4,509.2 720.4,500.7 725.3,513.5 730.3,514.8 735.3,508.2 740.3,485.6 745.2,471.3 750.2,493.1 755.2,508.0 760.2,500.7 765.2,514.6 770.1,511.0 775.1,516.9 780.1,515.4 785.1,499.7 790.0,497.7 795.0,503.6 800.0,520.9 805.0,514.8 809.9,502.9 814.9,505.4 819.9,509.7 824.9,508.7 829.8,511.3 834.8,523.6 839.8,527.8 844.8,539.6 849.7,514.5 854.7,510.8 859.7,527.5 864.7,529.0 869.6,515.3 874.6,499.5 879.6,489.2 884.6,492.4 889.6,483.1 894.5,478.1 899.5,500.0 904.5,502.6 909.5,488.6 914.4,484.4 919.4,493.7 924.4,480.5 929.4,476.6 934.3,457.7 939.3,478.3 944.3,484.4 949.3,485.5 954.2,483.5 959.2,469.1 964.2,480.3 969.2,482.0 974.1,467.4 979.1,444.1 984.1,448.1 989.1,453.4 994.0,450.8 999.0,464.8 1004.0,459.9 1009.0,455.8 1014.0,423.4 1018.9,433.6 1023.9,432.8 1028.9,424.3 1033.9,419.8 1038.8,429.8 1043.8,436.4 1048.8,433.4 1053.8,427.2 1058.7,425.0 1063.7,418.8 1068.7,427.2 1073.7,455.1 1078.6,455.1 1083.6,469.5 1088.6,479.8 1093.6,488.0 1098.5,478.4" fill="none" stroke="#9d5aa2" stroke-width="1.1"/>
</g>
<text x="15.3" y="434.6" font-size="11" fill="#222">Índice de fuerza relativa (RSI por sus siglas en inglés) (14)</text>
<line x1="1152.6" y1="421.8" x2="1155.5" y2="421.8" stroke="#4d4d4d" stroke-width="1"/>
<text x="1158.3" y="425.5" font-size="9" fill="#555555">70.0000</text>
<line x1="1152.6" y1="447.2" x2="1155.5" y2="447.2" stroke="#4d4d4d" stroke-width="1"/>
<text x="1158.3" y="450.9" font-size="9" fill="#555555">60.0000</text>
<rect x="1152.6" y="459.2" width="41.1" height="12.4" fill="#7fcad6"/>
<line x1="1152.6" y1="465.4" x2="1155.5" y2="465.4" stroke="#172a3a" stroke-width="1"/>
<text x="1158.3" y="468.9" font-size="9"  fill="#172a3a">51.9447</text>
<rect x="1152.6" y="472.4" width="41.1" height="12.0" fill="#7d0f86"/>
<line x1="1152.6" y1="478.4" x2="1155.5" y2="478.4" stroke="#ffffff" stroke-width="1"/>
<text x="1158.3" y="481.9" font-size="9" font-weight="bold" fill="#ffffff">48.2699</text>
<line x1="99.2" y1="500.5" x2="99.2" y2="503" stroke="#4d4d4d" stroke-width="1"/>
<text x="99.2" y="512.5" font-size="9" font-weight="bold" fill="#555555" text-anchor="middle">Mar</text>
<line x1="214.2" y1="500.5" x2="214.2" y2="503" stroke="#4d4d4d" stroke-width="1"/>
<text x="214.2" y="512.5" font-size="9" font-weight="bold" fill="#555555" text-anchor="middle">Abr</text>
<line x1="313.3" y1="500.5" x2="313.3" y2="503" stroke="#4d4d4d" stroke-width="1"/>
<text x="313.3" y="512.5" font-size="9" font-weight="bold" fill="#555555" text-anchor="middle">May</text>
<line x1="428" y1="500.5" x2="428" y2="503" stroke="#4d4d4d" stroke-width="1"/>
<text x="428" y="512.5" font-size="9" font-weight="bold" fill="#555555" text-anchor="middle">Jun</text>
<line x1="537" y1="500.5" x2="537" y2="503" stroke="#4d4d4d" stroke-width="1"/>
<text x="537" y="512.5" font-size="9" font-weight="bold" fill="#555555" text-anchor="middle">Jul</text>
<line x1="641.5" y1="500.5" x2="641.5" y2="503" stroke="#4d4d4d" stroke-width="1"/>
<text x="641.5" y="512.5" font-size="9" font-weight="bold" fill="#555555" text-anchor="middle">Ago</text>
<line x1="756.3" y1="500.5" x2="756.3" y2="503" stroke="#4d4d4d" stroke-width="1"/>
<text x="756.3" y="512.5" font-size="9" font-weight="bold" fill="#555555" text-anchor="middle">Sep</text>
<line x1="860.8" y1="500.5" x2="860.8" y2="503" stroke="#4d4d4d" stroke-width="1"/>
<text x="860.8" y="512.5" font-size="9" font-weight="bold" fill="#555555" text-anchor="middle">Oct</text>
<line x1="970" y1="500.5" x2="970" y2="503" stroke="#4d4d4d" stroke-width="1"/>
<text x="970" y="512.5" font-size="9" font-weight="bold" fill="#555555" text-anchor="middle">Nov</text>
<line x1="1079.5" y1="500.5" x2="1079.5" y2="503" stroke="#4d4d4d" stroke-width="1"/>
<text x="1079.5" y="512.5" font-size="9" font-weight="bold" fill="#555555" text-anchor="middle">Dic</text>
<line x1="1143.8" y1="500.5" x2="1143.8" y2="503" stroke="#4d4d4d" stroke-width="1"/>
<text x="1143.5" y="512.5" font-size="9" fill="#555555" text-anchor="middle">20</text>
<rect x="132.7" y="500.6" width="53.2" height="15" fill="#7fcad6"/>
<line x1="159.6" y1="500.5" x2="159.6" y2="503.5" stroke="#14343a" stroke-width="1"/>
<text x="159.3" y="512.5" font-size="9" font-weight="bold" fill="#14343a" text-anchor="middle">2023-03-17</text>
<rect x="0" y="518" width="1200" height="2" fill="#000"/>
</svg>
</body></html>
